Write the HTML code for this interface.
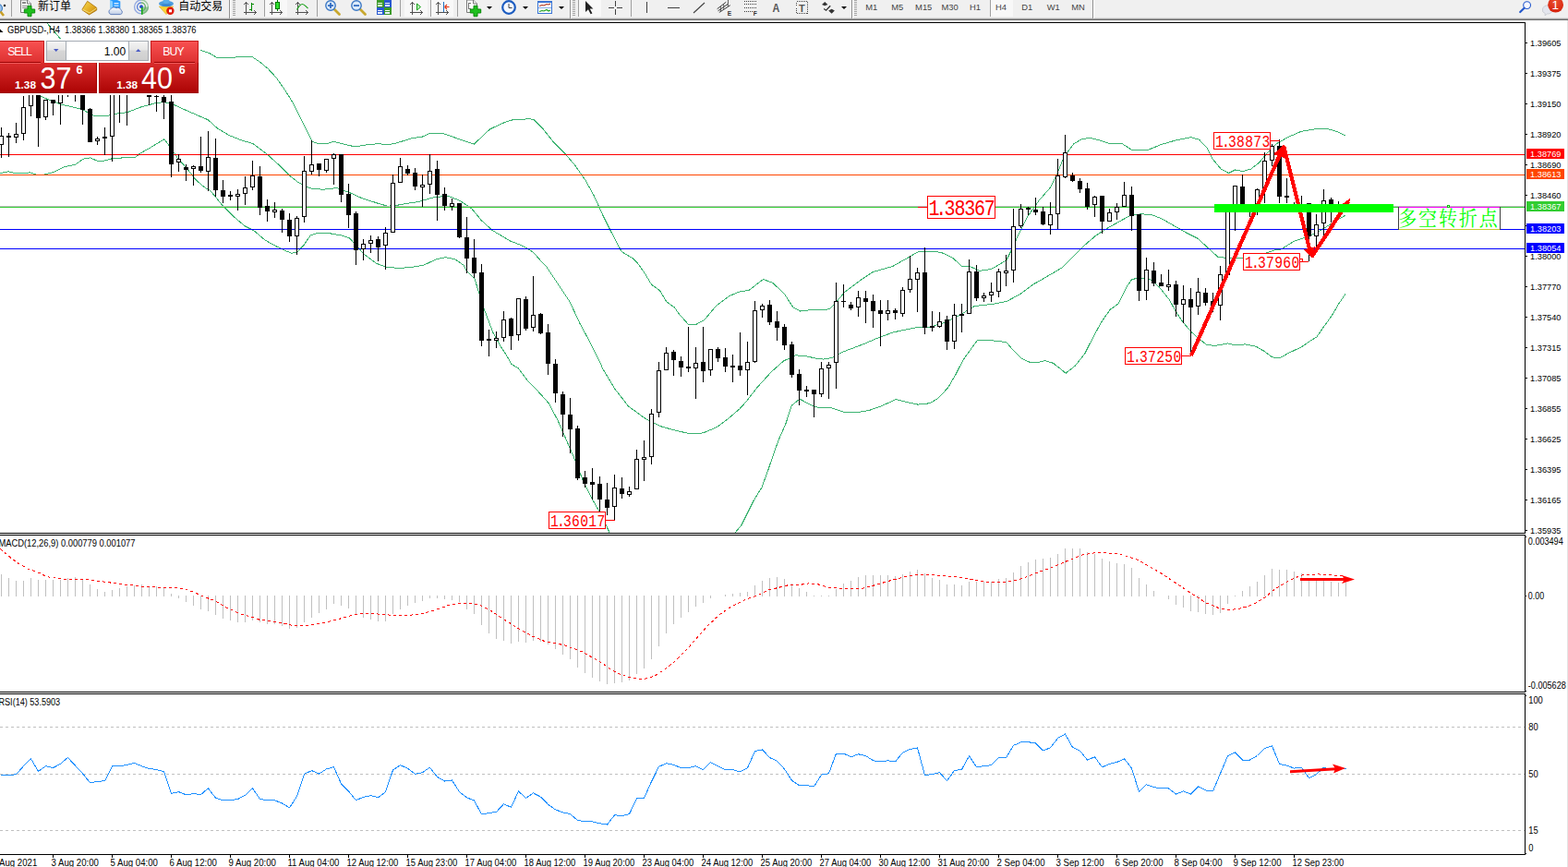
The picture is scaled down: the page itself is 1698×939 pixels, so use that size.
<!DOCTYPE html>
<html><head><meta charset="utf-8"><title>chart</title>
<style>
html,body{margin:0;padding:0;background:#fff;}
body{width:1698px;height:939px;position:relative;overflow:hidden;font-family:"Liberation Sans",sans-serif;}
.abs{position:absolute;}
</style></head><body>
<svg width="1698" height="939" viewBox="0 0 1698 939" style="position:absolute;left:0;top:0"><defs><clipPath id="cmain"><rect x="0" y="25" width="1651" height="552"/></clipPath></defs><g shape-rendering="crispEdges"><g clip-path="url(#cmain)"><polyline points="50.5,24.5 65.5,42.1 80.5,48.5 120.5,50.5 180.5,52.5 217.6,54.6 226.6,57.5 234.5,62.2 251.2,62.9 255.5,61.9 273.6,61.9 281.6,67.2 290.3,74.5 299.0,83.9 307.7,96.2 316.4,110.0 323.6,124.4 330.9,138.9 338.1,153.1 345.3,156.0 354.0,155.6 361.3,153.4 370.0,155.6 384.4,158.9 398.9,156.6 410.5,155.6 419.2,157.0 429.4,154.9 445.8,149.8 458.3,147.9 466.0,144.1 481.3,145.0 497.6,150.8 513.3,156.1 530.2,140.2 541.7,134.5 553.2,130.1 564.7,129.3 573.4,128.7 578.2,129.7 587.7,139.3 599.2,153.6 611.7,166.1 622.3,178.6 633.8,194.9 643.3,212.1 652.9,233.2 662.5,252.4 673.1,272.5 685.5,280.0 690.5,285.1 698.4,296.3 705.6,308.3 714.4,314.6 721.6,326.6 730.4,333.0 735.5,340.2 745.7,351.6 753.3,351.6 762.7,346.5 775.5,331.2 789.1,321.0 799.4,316.4 811.3,314.1 826.6,302.5 836.9,306.5 848.8,317.5 859.0,332.9 866.7,337.1 879.5,335.4 889.7,336.0 898.2,334.6 905.0,327.8 915.3,315.8 925.5,308.2 932.5,303.0 945.0,294.7 966.7,288.4 983.0,279.3 993.8,273.0 1008.3,272.1 1019.2,273.4 1031.9,279.3 1041.8,288.9 1050.0,288.4 1060.8,293.3 1073.5,291.5 1089.8,282.0 1097.0,267.6 1101.4,257.2 1112.2,235.5 1124.9,217.4 1137.6,202.9 1144.8,188.4 1152.0,170.3 1162.9,155.8 1171.9,150.4 1181.0,149.5 1191.9,152.2 1202.7,155.8 1215.4,155.8 1226.2,162.7 1242.5,162.7 1257.0,156.7 1273.3,151.9 1289.6,148.6 1298.6,151.3 1306.8,159.5 1313.1,172.1 1322.2,183.0 1330.4,187.5 1337.6,183.9 1345.8,185.7 1354.8,183.0 1363.9,175.8 1372.9,164.9 1382.0,155.9 1394.7,148.6 1409.2,142.3 1423.6,139.9 1436.3,139.2 1447.2,142.3 1457.5,147.2" fill="none" stroke="#3cb371" stroke-width="1"/><polyline points="0.5,80.5 20.5,90.5 44.7,104.5 55.9,109.3 66.5,113.1 80.4,116.3 88.9,118.4 96.3,122.7 102.7,125.9 114.5,125.9 125.1,123.2 137.9,121.6 152.5,116.0 169.1,111.5 178.0,110.6 188.2,113.4 202.3,119.8 225.3,129.8 235.5,139.0 248.3,146.6 261.1,151.7 273.9,155.6 289.2,167.1 302.0,178.6 313.5,190.1 322.4,197.1 336.2,203.9 349.8,205.3 365.1,203.6 378.8,208.7 390.7,214.1 407.8,219.8 419.7,223.2 431.6,222.0 440.5,220.3 452.9,218.6 470.7,213.4 485.7,212.4 497.6,217.1 511.0,226.1 521.4,238.8 533.3,249.6 552.7,261.1 564.6,265.6 577.3,273.0 588.5,285.7 591.4,288.3 604.2,307.5 616.9,326.6 628.1,350.6 639.3,371.4 648.9,390.5 652.9,399.7 665.7,421.0 680.6,440.1 699.8,454.0 716.8,462.2 733.9,466.8 748.8,470.0 761.5,468.9 776.5,462.5 789.2,452.9 800.5,443.3 807.9,435.2 819.8,419.8 835.2,402.8 848.8,390.8 861.6,384.9 870.9,385.4 884.6,388.3 891.4,389.1 901.6,387.4 911.9,381.5 925.5,376.3 935.5,372.5 948.6,366.9 966.7,360.0 992.0,354.8 1006.5,354.3 1021.0,350.1 1037.3,342.5 1055.4,331.5 1075.3,329.3 1089.8,326.5 1104.3,318.9 1118.7,308.1 1132.1,300.5 1150.2,289.8 1162.9,277.1 1173.8,266.2 1186.4,255.4 1199.1,247.2 1213.6,239.1 1224.4,233.3 1235.3,231.9 1246.2,232.2 1258.8,237.3 1271.5,244.5 1284.2,251.8 1296.8,258.1 1307.7,268.1 1318.6,278.1 1331.3,279.9 1346.7,279.9 1360.5,278.5 1371.4,274.0 1380.2,270.8 1387.4,269.9 1401.9,260.9 1416.4,256.4 1430.9,249.1 1443.6,241.0 1457.5,232.8" fill="none" stroke="#3cb371" stroke-width="1"/><polyline points="0.5,187.6 9.0,185.8 17.5,187.9 32.5,186.9 39.9,189.4 47.4,189.2 58.0,186.6 69.7,180.7 81.4,178.4 90.0,172.2 97.4,170.9 104.9,174.0 113.4,174.0 121.9,171.6 133.3,170.9 146.1,170.9 151.2,166.4 162.7,160.0 178.0,150.7 184.4,159.4 192.1,170.9 202.3,182.4 212.5,195.2 221.5,202.9 227.9,206.7 234.3,214.4 240.7,222.3 252.7,234.2 264.6,244.5 274.8,249.6 286.7,259.8 298.7,266.6 308.9,271.4 315.7,274.3 322.5,272.6 329.4,264.9 336.2,255.0 343.0,252.7 356.6,252.7 370.3,255.0 378.8,258.1 384.8,264.9 394.1,275.2 407.8,285.4 418.0,289.1 431.6,290.5 445.4,289.4 458.8,287.2 472.2,280.9 482.7,278.7 493.1,280.9 502.0,287.2 505.1,293.1 513.9,301.9 519.5,319.4 525.1,337.0 533.9,360.2 541.8,374.6 548.2,384.2 553.8,394.5 561.0,398.5 570.6,411.3 584.2,425.5 594.3,436.9 603.9,455.0 611.4,472.1 622.0,496.6 631.6,521.1 641.2,540.2 650.8,557.3 660.4,577.5 680.5,620.5 727.5,660.5 775.5,620.5 795.7,577.3 802.9,568.7 809.7,555.1 816.5,541.5 825.0,527.8 831.8,509.1 838.7,488.7 843.8,475.0 850.6,459.7 857.4,439.2 865.9,432.1 874.4,436.7 881.3,440.1 888.1,441.8 900.5,441.8 913.6,446.2 930.5,446.2 941.4,444.4 954.0,439.9 970.3,432.6 981.2,435.3 993.9,438.1 1006.5,436.8 1015.6,431.7 1026.5,420.0 1035.5,404.6 1042.8,390.1 1050.0,380.1 1058.1,368.9 1075.3,368.9 1089.8,370.5 1097.1,379.2 1106.1,388.3 1115.2,392.3 1122.4,392.8 1131.5,390.6 1140.5,393.3 1147.8,399.1 1154.1,404.2 1164.1,396.4 1174.9,382.8 1184.0,364.7 1193.0,348.4 1202.1,335.4 1211.1,328.9 1220.2,310.4 1226.0,302.1 1237.1,301.7 1246.1,303.0 1255.1,310.7 1266.2,324.5 1273.8,338.3 1281.4,349.4 1289.7,359.1 1298.0,366.7 1306.3,373.0 1314.7,374.6 1329.9,371.9 1337.6,373.9 1348.2,372.9 1359.9,375.1 1369.4,380.6 1377.6,386.8 1385.3,388.0 1396.5,381.8 1409.4,375.9 1417.7,370.0 1425.9,364.9 1434.2,352.9 1442.4,341.7 1449.5,329.4 1457.5,317.6" fill="none" stroke="#3cb371" stroke-width="1"/></g><rect x="0" y="167" width="1651" height="1" fill="#ff0000"/><rect x="0" y="189" width="1651" height="1" fill="#ff4500"/><rect x="0" y="223" width="1651" height="1" fill="#c0c0c0"/><rect x="0" y="224" width="1651" height="1" fill="#32cd32"/><rect x="0" y="248" width="1651" height="1" fill="#0000ff"/><rect x="0" y="269" width="1651" height="1" fill="#0000ff"/><g clip-path="url(#cmain)"><rect x="1" y="138" width="1" height="33" fill="#000"/><rect x="-1" y="147" width="5" height="10" fill="#000"/><rect x="0" y="148" width="3" height="8" fill="#fff"/><rect x="9" y="144" width="1" height="26" fill="#000"/><rect x="7" y="147" width="5" height="2" fill="#000"/><rect x="17" y="133" width="1" height="22" fill="#000"/><rect x="15" y="145" width="5" height="4" fill="#000"/><rect x="16" y="146" width="3" height="2" fill="#fff"/><rect x="25" y="104" width="1" height="48" fill="#000"/><rect x="23" y="116" width="5" height="29" fill="#000"/><rect x="24" y="117" width="3" height="27" fill="#fff"/><rect x="33" y="80" width="1" height="46" fill="#000"/><rect x="31" y="85" width="5" height="30" fill="#000"/><rect x="32" y="86" width="3" height="28" fill="#fff"/><rect x="41" y="80" width="1" height="79" fill="#000"/><rect x="39" y="85" width="5" height="43" fill="#000"/><rect x="49" y="108" width="1" height="22" fill="#000"/><rect x="47" y="108" width="5" height="19" fill="#000"/><rect x="48" y="109" width="3" height="17" fill="#fff"/><rect x="57" y="108" width="1" height="17" fill="#000"/><rect x="55" y="108" width="5" height="4" fill="#000"/><rect x="65" y="85" width="1" height="50" fill="#000"/><rect x="63" y="90" width="5" height="22" fill="#000"/><rect x="64" y="91" width="3" height="20" fill="#fff"/><rect x="73" y="75" width="1" height="30" fill="#000"/><rect x="71" y="80" width="5" height="18" fill="#000"/><rect x="81" y="80" width="1" height="30" fill="#000"/><rect x="79" y="85" width="5" height="14" fill="#000"/><rect x="80" y="86" width="3" height="12" fill="#fff"/><rect x="89" y="85" width="1" height="50" fill="#000"/><rect x="87" y="90" width="5" height="29" fill="#000"/><rect x="97" y="117" width="1" height="37" fill="#000"/><rect x="95" y="118" width="5" height="36" fill="#000"/><rect x="105" y="148" width="1" height="9" fill="#000"/><rect x="103" y="150" width="5" height="3" fill="#000"/><rect x="104" y="151" width="3" height="1" fill="#fff"/><rect x="113" y="138" width="1" height="30" fill="#000"/><rect x="111" y="148" width="5" height="2" fill="#000"/><rect x="121" y="80" width="1" height="95" fill="#000"/><rect x="119" y="85" width="5" height="63" fill="#000"/><rect x="120" y="86" width="3" height="61" fill="#fff"/><rect x="129" y="75" width="1" height="58" fill="#000"/><rect x="127" y="80" width="5" height="15" fill="#000"/><rect x="137" y="75" width="1" height="61" fill="#000"/><rect x="135" y="80" width="5" height="15" fill="#000"/><rect x="136" y="81" width="3" height="13" fill="#fff"/><rect x="145" y="75" width="1" height="24" fill="#000"/><rect x="143" y="80" width="5" height="15" fill="#000"/><rect x="153" y="75" width="1" height="24" fill="#000"/><rect x="151" y="80" width="5" height="15" fill="#000"/><rect x="152" y="81" width="3" height="13" fill="#fff"/><rect x="161" y="90" width="1" height="24" fill="#000"/><rect x="159" y="96" width="5" height="9" fill="#000"/><rect x="169" y="95" width="1" height="26" fill="#000"/><rect x="167" y="104" width="5" height="1" fill="#000"/><rect x="177" y="100" width="1" height="29" fill="#000"/><rect x="175" y="105" width="5" height="6" fill="#000"/><rect x="185" y="100" width="1" height="92" fill="#000"/><rect x="183" y="110" width="5" height="68" fill="#000"/><rect x="193" y="167" width="1" height="19" fill="#000"/><rect x="191" y="172" width="5" height="4" fill="#000"/><rect x="192" y="173" width="3" height="2" fill="#fff"/><rect x="201" y="178" width="1" height="18" fill="#000"/><rect x="199" y="181" width="5" height="3" fill="#000"/><rect x="209" y="179" width="1" height="22" fill="#000"/><rect x="207" y="180" width="5" height="3" fill="#000"/><rect x="208" y="181" width="3" height="1" fill="#fff"/><rect x="217" y="148" width="1" height="39" fill="#000"/><rect x="215" y="180" width="5" height="5" fill="#000"/><rect x="225" y="142" width="1" height="65" fill="#000"/><rect x="223" y="170" width="5" height="16" fill="#000"/><rect x="224" y="171" width="3" height="14" fill="#fff"/><rect x="233" y="150" width="1" height="63" fill="#000"/><rect x="231" y="171" width="5" height="35" fill="#000"/><rect x="241" y="195" width="1" height="25" fill="#000"/><rect x="239" y="206" width="5" height="7" fill="#000"/><rect x="249" y="207" width="1" height="10" fill="#000"/><rect x="247" y="211" width="5" height="2" fill="#000"/><rect x="257" y="205" width="1" height="23" fill="#000"/><rect x="255" y="210" width="5" height="3" fill="#000"/><rect x="256" y="211" width="3" height="1" fill="#fff"/><rect x="265" y="191" width="1" height="31" fill="#000"/><rect x="263" y="203" width="5" height="7" fill="#000"/><rect x="264" y="204" width="3" height="5" fill="#fff"/><rect x="273" y="174" width="1" height="32" fill="#000"/><rect x="271" y="190" width="5" height="13" fill="#000"/><rect x="272" y="191" width="3" height="11" fill="#fff"/><rect x="281" y="180" width="1" height="53" fill="#000"/><rect x="279" y="191" width="5" height="34" fill="#000"/><rect x="289" y="216" width="1" height="24" fill="#000"/><rect x="287" y="223" width="5" height="6" fill="#000"/><rect x="297" y="219" width="1" height="17" fill="#000"/><rect x="295" y="227" width="5" height="3" fill="#000"/><rect x="296" y="228" width="3" height="1" fill="#fff"/><rect x="305" y="226" width="1" height="26" fill="#000"/><rect x="303" y="228" width="5" height="10" fill="#000"/><rect x="313" y="231" width="1" height="31" fill="#000"/><rect x="311" y="238" width="5" height="18" fill="#000"/><rect x="321" y="234" width="1" height="42" fill="#000"/><rect x="319" y="236" width="5" height="20" fill="#000"/><rect x="320" y="237" width="3" height="18" fill="#fff"/><rect x="329" y="169" width="1" height="72" fill="#000"/><rect x="327" y="185" width="5" height="50" fill="#000"/><rect x="328" y="186" width="3" height="48" fill="#fff"/><rect x="337" y="152" width="1" height="37" fill="#000"/><rect x="335" y="178" width="5" height="8" fill="#000"/><rect x="336" y="179" width="3" height="6" fill="#fff"/><rect x="345" y="177" width="1" height="14" fill="#000"/><rect x="343" y="177" width="5" height="7" fill="#000"/><rect x="353" y="172" width="1" height="15" fill="#000"/><rect x="351" y="172" width="5" height="13" fill="#000"/><rect x="352" y="173" width="3" height="11" fill="#fff"/><rect x="361" y="166" width="1" height="34" fill="#000"/><rect x="359" y="167" width="5" height="5" fill="#000"/><rect x="360" y="168" width="3" height="3" fill="#fff"/><rect x="369" y="167" width="1" height="52" fill="#000"/><rect x="367" y="167" width="5" height="44" fill="#000"/><rect x="377" y="199" width="1" height="48" fill="#000"/><rect x="375" y="210" width="5" height="23" fill="#000"/><rect x="385" y="229" width="1" height="58" fill="#000"/><rect x="383" y="231" width="5" height="40" fill="#000"/><rect x="393" y="259" width="1" height="23" fill="#000"/><rect x="391" y="264" width="5" height="6" fill="#000"/><rect x="392" y="265" width="3" height="4" fill="#fff"/><rect x="401" y="255" width="1" height="19" fill="#000"/><rect x="399" y="260" width="5" height="4" fill="#000"/><rect x="400" y="261" width="3" height="2" fill="#fff"/><rect x="409" y="256" width="1" height="27" fill="#000"/><rect x="407" y="259" width="5" height="9" fill="#000"/><rect x="417" y="246" width="1" height="46" fill="#000"/><rect x="415" y="252" width="5" height="14" fill="#000"/><rect x="416" y="253" width="3" height="12" fill="#fff"/><rect x="425" y="189" width="1" height="63" fill="#000"/><rect x="423" y="198" width="5" height="54" fill="#000"/><rect x="424" y="199" width="3" height="52" fill="#fff"/><rect x="433" y="171" width="1" height="27" fill="#000"/><rect x="431" y="180" width="5" height="18" fill="#000"/><rect x="432" y="181" width="3" height="16" fill="#fff"/><rect x="441" y="179" width="1" height="11" fill="#000"/><rect x="439" y="183" width="5" height="5" fill="#000"/><rect x="449" y="182" width="1" height="24" fill="#000"/><rect x="447" y="187" width="5" height="15" fill="#000"/><rect x="457" y="189" width="1" height="35" fill="#000"/><rect x="455" y="200" width="5" height="3" fill="#000"/><rect x="456" y="201" width="3" height="1" fill="#fff"/><rect x="465" y="167" width="1" height="43" fill="#000"/><rect x="463" y="185" width="5" height="15" fill="#000"/><rect x="464" y="186" width="3" height="13" fill="#fff"/><rect x="473" y="174" width="1" height="65" fill="#000"/><rect x="471" y="183" width="5" height="28" fill="#000"/><rect x="481" y="203" width="1" height="25" fill="#000"/><rect x="479" y="210" width="5" height="13" fill="#000"/><rect x="489" y="215" width="1" height="13" fill="#000"/><rect x="487" y="220" width="5" height="4" fill="#000"/><rect x="488" y="221" width="3" height="2" fill="#fff"/><rect x="497" y="220" width="1" height="38" fill="#000"/><rect x="495" y="220" width="5" height="37" fill="#000"/><rect x="505" y="235" width="1" height="61" fill="#000"/><rect x="503" y="257" width="5" height="23" fill="#000"/><rect x="513" y="259" width="1" height="42" fill="#000"/><rect x="511" y="279" width="5" height="17" fill="#000"/><rect x="521" y="286" width="1" height="89" fill="#000"/><rect x="519" y="295" width="5" height="74" fill="#000"/><rect x="529" y="357" width="1" height="29" fill="#000"/><rect x="527" y="367" width="5" height="2" fill="#000"/><rect x="537" y="359" width="1" height="18" fill="#000"/><rect x="535" y="366" width="5" height="3" fill="#000"/><rect x="536" y="367" width="3" height="1" fill="#fff"/><rect x="545" y="337" width="1" height="33" fill="#000"/><rect x="543" y="346" width="5" height="20" fill="#000"/><rect x="544" y="347" width="3" height="18" fill="#fff"/><rect x="553" y="344" width="1" height="35" fill="#000"/><rect x="551" y="345" width="5" height="19" fill="#000"/><rect x="561" y="323" width="1" height="46" fill="#000"/><rect x="559" y="323" width="5" height="40" fill="#000"/><rect x="560" y="324" width="3" height="38" fill="#fff"/><rect x="569" y="321" width="1" height="37" fill="#000"/><rect x="567" y="324" width="5" height="32" fill="#000"/><rect x="577" y="299" width="1" height="60" fill="#000"/><rect x="575" y="341" width="5" height="14" fill="#000"/><rect x="576" y="342" width="3" height="12" fill="#fff"/><rect x="585" y="339" width="1" height="23" fill="#000"/><rect x="583" y="340" width="5" height="21" fill="#000"/><rect x="593" y="351" width="1" height="55" fill="#000"/><rect x="591" y="360" width="5" height="34" fill="#000"/><rect x="601" y="389" width="1" height="47" fill="#000"/><rect x="599" y="394" width="5" height="32" fill="#000"/><rect x="609" y="424" width="1" height="49" fill="#000"/><rect x="607" y="427" width="5" height="22" fill="#000"/><rect x="617" y="431" width="1" height="60" fill="#000"/><rect x="615" y="449" width="5" height="16" fill="#000"/><rect x="625" y="461" width="1" height="59" fill="#000"/><rect x="623" y="464" width="5" height="54" fill="#000"/><rect x="633" y="510" width="1" height="18" fill="#000"/><rect x="631" y="517" width="5" height="7" fill="#000"/><rect x="641" y="507" width="1" height="34" fill="#000"/><rect x="639" y="522" width="5" height="3" fill="#000"/><rect x="649" y="516" width="1" height="39" fill="#000"/><rect x="647" y="524" width="5" height="17" fill="#000"/><rect x="657" y="523" width="1" height="35" fill="#000"/><rect x="655" y="541" width="5" height="9" fill="#000"/><rect x="665" y="514" width="1" height="49" fill="#000"/><rect x="663" y="528" width="5" height="21" fill="#000"/><rect x="664" y="529" width="3" height="19" fill="#fff"/><rect x="673" y="517" width="1" height="23" fill="#000"/><rect x="671" y="529" width="5" height="6" fill="#000"/><rect x="681" y="527" width="1" height="11" fill="#000"/><rect x="679" y="532" width="5" height="4" fill="#000"/><rect x="680" y="533" width="3" height="2" fill="#fff"/><rect x="689" y="487" width="1" height="43" fill="#000"/><rect x="687" y="497" width="5" height="33" fill="#000"/><rect x="688" y="498" width="3" height="31" fill="#fff"/><rect x="697" y="477" width="1" height="44" fill="#000"/><rect x="695" y="495" width="5" height="3" fill="#000"/><rect x="696" y="496" width="3" height="1" fill="#fff"/><rect x="705" y="443" width="1" height="60" fill="#000"/><rect x="703" y="448" width="5" height="47" fill="#000"/><rect x="704" y="449" width="3" height="45" fill="#fff"/><rect x="713" y="392" width="1" height="60" fill="#000"/><rect x="711" y="401" width="5" height="46" fill="#000"/><rect x="712" y="402" width="3" height="44" fill="#fff"/><rect x="721" y="376" width="1" height="25" fill="#000"/><rect x="719" y="382" width="5" height="19" fill="#000"/><rect x="720" y="383" width="3" height="17" fill="#fff"/><rect x="729" y="379" width="1" height="28" fill="#000"/><rect x="727" y="381" width="5" height="9" fill="#000"/><rect x="737" y="386" width="1" height="22" fill="#000"/><rect x="735" y="391" width="5" height="7" fill="#000"/><rect x="745" y="354" width="1" height="49" fill="#000"/><rect x="743" y="397" width="5" height="2" fill="#000"/><rect x="753" y="376" width="1" height="56" fill="#000"/><rect x="751" y="393" width="5" height="6" fill="#000"/><rect x="752" y="394" width="3" height="4" fill="#fff"/><rect x="761" y="354" width="1" height="60" fill="#000"/><rect x="759" y="392" width="5" height="10" fill="#000"/><rect x="769" y="378" width="1" height="29" fill="#000"/><rect x="767" y="378" width="5" height="23" fill="#000"/><rect x="768" y="379" width="3" height="21" fill="#fff"/><rect x="777" y="376" width="1" height="16" fill="#000"/><rect x="775" y="378" width="5" height="10" fill="#000"/><rect x="785" y="377" width="1" height="26" fill="#000"/><rect x="783" y="387" width="5" height="10" fill="#000"/><rect x="793" y="384" width="1" height="30" fill="#000"/><rect x="791" y="396" width="5" height="2" fill="#000"/><rect x="801" y="360" width="1" height="47" fill="#000"/><rect x="799" y="396" width="5" height="5" fill="#000"/><rect x="809" y="370" width="1" height="58" fill="#000"/><rect x="807" y="392" width="5" height="9" fill="#000"/><rect x="808" y="393" width="3" height="7" fill="#fff"/><rect x="817" y="326" width="1" height="67" fill="#000"/><rect x="815" y="336" width="5" height="56" fill="#000"/><rect x="816" y="337" width="3" height="54" fill="#fff"/><rect x="825" y="329" width="1" height="15" fill="#000"/><rect x="823" y="331" width="5" height="5" fill="#000"/><rect x="824" y="332" width="3" height="3" fill="#fff"/><rect x="833" y="325" width="1" height="27" fill="#000"/><rect x="831" y="330" width="5" height="19" fill="#000"/><rect x="841" y="337" width="1" height="32" fill="#000"/><rect x="839" y="348" width="5" height="7" fill="#000"/><rect x="849" y="351" width="1" height="28" fill="#000"/><rect x="847" y="354" width="5" height="20" fill="#000"/><rect x="857" y="370" width="1" height="39" fill="#000"/><rect x="855" y="373" width="5" height="33" fill="#000"/><rect x="865" y="400" width="1" height="39" fill="#000"/><rect x="863" y="405" width="5" height="18" fill="#000"/><rect x="873" y="418" width="1" height="12" fill="#000"/><rect x="871" y="422" width="5" height="2" fill="#000"/><rect x="881" y="422" width="1" height="30" fill="#000"/><rect x="879" y="422" width="5" height="5" fill="#000"/><rect x="889" y="392" width="1" height="38" fill="#000"/><rect x="887" y="399" width="5" height="28" fill="#000"/><rect x="888" y="400" width="3" height="26" fill="#fff"/><rect x="897" y="392" width="1" height="40" fill="#000"/><rect x="895" y="395" width="5" height="4" fill="#000"/><rect x="896" y="396" width="3" height="2" fill="#fff"/><rect x="905" y="306" width="1" height="115" fill="#000"/><rect x="903" y="326" width="5" height="67" fill="#000"/><rect x="904" y="327" width="3" height="65" fill="#fff"/><rect x="913" y="308" width="1" height="25" fill="#000"/><rect x="911" y="326" width="5" height="1" fill="#000"/><rect x="921" y="327" width="1" height="9" fill="#000"/><rect x="919" y="330" width="5" height="4" fill="#000"/><rect x="929" y="315" width="1" height="28" fill="#000"/><rect x="927" y="322" width="5" height="11" fill="#000"/><rect x="928" y="323" width="3" height="9" fill="#fff"/><rect x="937" y="315" width="1" height="35" fill="#000"/><rect x="935" y="323" width="5" height="4" fill="#000"/><rect x="945" y="319" width="1" height="36" fill="#000"/><rect x="943" y="326" width="5" height="11" fill="#000"/><rect x="953" y="325" width="1" height="50" fill="#000"/><rect x="951" y="336" width="5" height="4" fill="#000"/><rect x="961" y="325" width="1" height="22" fill="#000"/><rect x="959" y="336" width="5" height="4" fill="#000"/><rect x="960" y="337" width="3" height="2" fill="#fff"/><rect x="969" y="334" width="1" height="12" fill="#000"/><rect x="967" y="336" width="5" height="3" fill="#000"/><rect x="977" y="311" width="1" height="32" fill="#000"/><rect x="975" y="314" width="5" height="26" fill="#000"/><rect x="976" y="315" width="3" height="24" fill="#fff"/><rect x="985" y="277" width="1" height="40" fill="#000"/><rect x="983" y="302" width="5" height="12" fill="#000"/><rect x="984" y="303" width="3" height="10" fill="#fff"/><rect x="993" y="290" width="1" height="48" fill="#000"/><rect x="991" y="295" width="5" height="8" fill="#000"/><rect x="992" y="296" width="3" height="6" fill="#fff"/><rect x="1001" y="268" width="1" height="94" fill="#000"/><rect x="999" y="295" width="5" height="60" fill="#000"/><rect x="1009" y="337" width="1" height="22" fill="#000"/><rect x="1007" y="353" width="5" height="2" fill="#000"/><rect x="1017" y="338" width="1" height="17" fill="#000"/><rect x="1015" y="348" width="5" height="6" fill="#000"/><rect x="1016" y="349" width="3" height="4" fill="#fff"/><rect x="1025" y="342" width="1" height="37" fill="#000"/><rect x="1023" y="346" width="5" height="24" fill="#000"/><rect x="1033" y="329" width="1" height="49" fill="#000"/><rect x="1031" y="341" width="5" height="29" fill="#000"/><rect x="1032" y="342" width="3" height="27" fill="#fff"/><rect x="1041" y="329" width="1" height="31" fill="#000"/><rect x="1039" y="340" width="5" height="2" fill="#000"/><rect x="1049" y="281" width="1" height="59" fill="#000"/><rect x="1047" y="294" width="5" height="46" fill="#000"/><rect x="1048" y="295" width="3" height="44" fill="#fff"/><rect x="1057" y="287" width="1" height="39" fill="#000"/><rect x="1055" y="294" width="5" height="29" fill="#000"/><rect x="1065" y="317" width="1" height="10" fill="#000"/><rect x="1063" y="320" width="5" height="3" fill="#000"/><rect x="1064" y="321" width="3" height="1" fill="#fff"/><rect x="1073" y="306" width="1" height="21" fill="#000"/><rect x="1071" y="316" width="5" height="4" fill="#000"/><rect x="1072" y="317" width="3" height="2" fill="#fff"/><rect x="1081" y="291" width="1" height="31" fill="#000"/><rect x="1079" y="294" width="5" height="22" fill="#000"/><rect x="1080" y="295" width="3" height="20" fill="#fff"/><rect x="1089" y="276" width="1" height="34" fill="#000"/><rect x="1087" y="293" width="5" height="3" fill="#000"/><rect x="1088" y="294" width="3" height="1" fill="#fff"/><rect x="1097" y="226" width="1" height="80" fill="#000"/><rect x="1095" y="245" width="5" height="48" fill="#000"/><rect x="1096" y="246" width="3" height="46" fill="#fff"/><rect x="1105" y="221" width="1" height="26" fill="#000"/><rect x="1103" y="226" width="5" height="19" fill="#000"/><rect x="1104" y="227" width="3" height="17" fill="#fff"/><rect x="1113" y="224" width="1" height="9" fill="#000"/><rect x="1111" y="225" width="5" height="2" fill="#000"/><rect x="1121" y="214" width="1" height="19" fill="#000"/><rect x="1119" y="227" width="5" height="3" fill="#000"/><rect x="1129" y="224" width="1" height="20" fill="#000"/><rect x="1127" y="229" width="5" height="14" fill="#000"/><rect x="1137" y="219" width="1" height="35" fill="#000"/><rect x="1135" y="232" width="5" height="12" fill="#000"/><rect x="1136" y="233" width="3" height="10" fill="#fff"/><rect x="1145" y="172" width="1" height="76" fill="#000"/><rect x="1143" y="190" width="5" height="42" fill="#000"/><rect x="1144" y="191" width="3" height="40" fill="#fff"/><rect x="1153" y="146" width="1" height="47" fill="#000"/><rect x="1151" y="165" width="5" height="27" fill="#000"/><rect x="1152" y="166" width="3" height="25" fill="#fff"/><rect x="1161" y="187" width="1" height="10" fill="#000"/><rect x="1159" y="190" width="5" height="6" fill="#000"/><rect x="1169" y="193" width="1" height="16" fill="#000"/><rect x="1167" y="196" width="5" height="9" fill="#000"/><rect x="1177" y="198" width="1" height="29" fill="#000"/><rect x="1175" y="204" width="5" height="20" fill="#000"/><rect x="1185" y="212" width="1" height="23" fill="#000"/><rect x="1183" y="213" width="5" height="9" fill="#000"/><rect x="1184" y="214" width="3" height="7" fill="#fff"/><rect x="1193" y="212" width="1" height="41" fill="#000"/><rect x="1191" y="212" width="5" height="28" fill="#000"/><rect x="1201" y="226" width="1" height="14" fill="#000"/><rect x="1199" y="230" width="5" height="10" fill="#000"/><rect x="1200" y="231" width="3" height="8" fill="#fff"/><rect x="1209" y="220" width="1" height="18" fill="#000"/><rect x="1207" y="224" width="5" height="6" fill="#000"/><rect x="1208" y="225" width="3" height="4" fill="#fff"/><rect x="1217" y="197" width="1" height="27" fill="#000"/><rect x="1215" y="211" width="5" height="13" fill="#000"/><rect x="1216" y="212" width="3" height="11" fill="#fff"/><rect x="1225" y="202" width="1" height="48" fill="#000"/><rect x="1223" y="211" width="5" height="23" fill="#000"/><rect x="1233" y="232" width="1" height="94" fill="#000"/><rect x="1231" y="232" width="5" height="83" fill="#000"/><rect x="1241" y="279" width="1" height="46" fill="#000"/><rect x="1239" y="292" width="5" height="23" fill="#000"/><rect x="1240" y="293" width="3" height="21" fill="#fff"/><rect x="1249" y="284" width="1" height="26" fill="#000"/><rect x="1247" y="293" width="5" height="14" fill="#000"/><rect x="1257" y="297" width="1" height="13" fill="#000"/><rect x="1255" y="306" width="5" height="4" fill="#000"/><rect x="1265" y="292" width="1" height="23" fill="#000"/><rect x="1263" y="308" width="5" height="3" fill="#000"/><rect x="1264" y="309" width="3" height="1" fill="#fff"/><rect x="1273" y="304" width="1" height="39" fill="#000"/><rect x="1271" y="308" width="5" height="22" fill="#000"/><rect x="1281" y="309" width="1" height="41" fill="#000"/><rect x="1279" y="324" width="5" height="6" fill="#000"/><rect x="1280" y="325" width="3" height="4" fill="#fff"/><rect x="1289" y="312" width="1" height="73" fill="#000"/><rect x="1287" y="324" width="5" height="9" fill="#000"/><rect x="1297" y="301" width="1" height="40" fill="#000"/><rect x="1295" y="316" width="5" height="16" fill="#000"/><rect x="1296" y="317" width="3" height="14" fill="#fff"/><rect x="1305" y="312" width="1" height="19" fill="#000"/><rect x="1303" y="317" width="5" height="11" fill="#000"/><rect x="1313" y="317" width="1" height="21" fill="#000"/><rect x="1311" y="326" width="5" height="6" fill="#000"/><rect x="1321" y="288" width="1" height="59" fill="#000"/><rect x="1319" y="297" width="5" height="34" fill="#000"/><rect x="1320" y="298" width="3" height="32" fill="#fff"/><rect x="1329" y="229" width="1" height="69" fill="#000"/><rect x="1327" y="229" width="5" height="69" fill="#000"/><rect x="1328" y="230" width="3" height="67" fill="#fff"/><rect x="1337" y="201" width="1" height="49" fill="#000"/><rect x="1335" y="201" width="5" height="22" fill="#000"/><rect x="1336" y="202" width="3" height="20" fill="#fff"/><rect x="1345" y="189" width="1" height="35" fill="#000"/><rect x="1343" y="202" width="5" height="22" fill="#000"/><rect x="1353" y="221" width="1" height="14" fill="#000"/><rect x="1351" y="225" width="5" height="2" fill="#000"/><rect x="1361" y="204" width="1" height="29" fill="#000"/><rect x="1359" y="205" width="5" height="21" fill="#000"/><rect x="1360" y="206" width="3" height="19" fill="#fff"/><rect x="1369" y="165" width="1" height="55" fill="#000"/><rect x="1367" y="174" width="5" height="31" fill="#000"/><rect x="1368" y="175" width="3" height="29" fill="#fff"/><rect x="1377" y="156" width="1" height="24" fill="#000"/><rect x="1375" y="158" width="5" height="16" fill="#000"/><rect x="1376" y="159" width="3" height="14" fill="#fff"/><rect x="1385" y="151" width="1" height="69" fill="#000"/><rect x="1383" y="158" width="5" height="55" fill="#000"/><rect x="1393" y="193" width="1" height="27" fill="#000"/><rect x="1391" y="212" width="5" height="2" fill="#000"/><rect x="1401" y="219" width="1" height="9" fill="#000"/><rect x="1399" y="223" width="5" height="2" fill="#000"/><rect x="1409" y="212" width="1" height="30" fill="#000"/><rect x="1407" y="223" width="5" height="5" fill="#000"/><rect x="1408" y="224" width="3" height="3" fill="#fff"/><rect x="1417" y="220" width="1" height="63" fill="#000"/><rect x="1415" y="220" width="5" height="36" fill="#000"/><rect x="1425" y="232" width="1" height="37" fill="#000"/><rect x="1423" y="243" width="5" height="13" fill="#000"/><rect x="1424" y="244" width="3" height="11" fill="#fff"/><rect x="1433" y="205" width="1" height="52" fill="#000"/><rect x="1431" y="217" width="5" height="25" fill="#000"/><rect x="1432" y="218" width="3" height="23" fill="#fff"/><rect x="1441" y="214" width="1" height="27" fill="#000"/><rect x="1439" y="216" width="5" height="8" fill="#000"/><rect x="1449" y="218" width="1" height="12" fill="#000"/><rect x="1447" y="223" width="5" height="2" fill="#000"/><rect x="1457" y="224" width="1" height="1" fill="#000"/><rect x="1455" y="223" width="5" height="2" fill="#000"/></g></g><g shape-rendering="crispEdges"><rect x="1514" y="224" width="111" height="25" fill="#fff"/><rect x="1514" y="224" width="111" height="1" fill="#ff00ff"/><rect x="1514" y="248" width="111" height="1" fill="#c8c832"/><rect x="1514" y="224" width="1" height="25" fill="#404040"/><rect x="1624" y="224" width="1" height="25" fill="#404040"/></g><rect x="1567" y="222" width="3" height="3" fill="#00c800" shape-rendering="crispEdges"/><rect x="1568" y="223" width="1" height="1" fill="#fff" shape-rendering="crispEdges"/><text transform="translate(1513.8,244.3) scale(1,1.09)" x="0.4" y="0" font-family="'Liberation Serif','Noto Serif CJK SC',serif" font-size="20" letter-spacing="1.9" fill="#00ff00">多空转折点</text><line x1="656" y1="563.5" x2="665.5" y2="563.5" stroke="#ff0000" stroke-width="1" shape-rendering="crispEdges"/><line x1="994" y1="224.5" x2="1004" y2="224.5" stroke="#ff0000" stroke-width="1" shape-rendering="crispEdges"/><line x1="1280" y1="385.5" x2="1290" y2="385.5" stroke="#ff0000" stroke-width="1" shape-rendering="crispEdges"/><line x1="1376" y1="152.5" x2="1386" y2="152.5" stroke="#ff0000" stroke-width="1" shape-rendering="crispEdges"/><line x1="1410" y1="283.5" x2="1417" y2="283.5" stroke="#ff0000" stroke-width="1" shape-rendering="crispEdges"/><rect x="594.5" y="554.5" width="61" height="18" fill="#fff" stroke="#ff0000" stroke-width="1" shape-rendering="crispEdges"/><text transform="translate(600.5,570.0) scale(1,1.24)" font-family="Liberation Mono" font-size="14.7" fill="#ff0000" text-anchor="middle">1</text><text transform="translate(607.3,570.0) scale(1,1.24)" font-family="Liberation Mono" font-size="14.7" fill="#ff0000" text-anchor="middle">.</text><text transform="translate(614.4,570.0) scale(1,1.24)" font-family="Liberation Mono" font-size="14.7" fill="#ff0000" text-anchor="middle">3</text><text transform="translate(623.5,570.0) scale(1,1.24)" font-family="Liberation Mono" font-size="14.7" fill="#ff0000" text-anchor="middle">6</text><text transform="translate(632.6,570.0) scale(1,1.24)" font-family="Liberation Mono" font-size="14.7" fill="#ff0000" text-anchor="middle">0</text><text transform="translate(641.7,570.0) scale(1,1.24)" font-family="Liberation Mono" font-size="14.7" fill="#ff0000" text-anchor="middle">1</text><text transform="translate(650.8,570.0) scale(1,1.24)" font-family="Liberation Mono" font-size="14.7" fill="#ff0000" text-anchor="middle">7</text><rect x="1004.5" y="212.5" width="73" height="24" fill="#fff" stroke="#ff0000" stroke-width="1" shape-rendering="crispEdges"/><text transform="translate(1011.4,233.1) scale(1.15,1.375)" font-family="Liberation Mono" font-size="17.4" fill="#ff0000" text-anchor="middle">1</text><text transform="translate(1019.2,233.1) scale(1.15,1.375)" font-family="Liberation Mono" font-size="17.4" fill="#ff0000" text-anchor="middle">.</text><text transform="translate(1028.6,233.1) scale(1.15,1.375)" font-family="Liberation Mono" font-size="17.4" fill="#ff0000" text-anchor="middle">3</text><text transform="translate(1039.4,233.1) scale(1.15,1.375)" font-family="Liberation Mono" font-size="17.4" fill="#ff0000" text-anchor="middle">8</text><text transform="translate(1050.2,233.1) scale(1.15,1.375)" font-family="Liberation Mono" font-size="17.4" fill="#ff0000" text-anchor="middle">3</text><text transform="translate(1061.0,233.1) scale(1.15,1.375)" font-family="Liberation Mono" font-size="17.4" fill="#ff0000" text-anchor="middle">6</text><text transform="translate(1071.8,233.1) scale(1.15,1.375)" font-family="Liberation Mono" font-size="17.4" fill="#ff0000" text-anchor="middle">7</text><rect x="1218.5" y="376.5" width="61" height="18" fill="#fff" stroke="#ff0000" stroke-width="1" shape-rendering="crispEdges"/><text transform="translate(1224.5,392.0) scale(1,1.24)" font-family="Liberation Mono" font-size="14.7" fill="#ff0000" text-anchor="middle">1</text><text transform="translate(1231.3,392.0) scale(1,1.24)" font-family="Liberation Mono" font-size="14.7" fill="#ff0000" text-anchor="middle">.</text><text transform="translate(1238.4,392.0) scale(1,1.24)" font-family="Liberation Mono" font-size="14.7" fill="#ff0000" text-anchor="middle">3</text><text transform="translate(1247.5,392.0) scale(1,1.24)" font-family="Liberation Mono" font-size="14.7" fill="#ff0000" text-anchor="middle">7</text><text transform="translate(1256.6,392.0) scale(1,1.24)" font-family="Liberation Mono" font-size="14.7" fill="#ff0000" text-anchor="middle">2</text><text transform="translate(1265.7,392.0) scale(1,1.24)" font-family="Liberation Mono" font-size="14.7" fill="#ff0000" text-anchor="middle">5</text><text transform="translate(1274.8,392.0) scale(1,1.24)" font-family="Liberation Mono" font-size="14.7" fill="#ff0000" text-anchor="middle">0</text><rect x="1314.5" y="143.5" width="61" height="18" fill="#fff" stroke="#ff0000" stroke-width="1" shape-rendering="crispEdges"/><text transform="translate(1320.5,159.0) scale(1,1.24)" font-family="Liberation Mono" font-size="14.7" fill="#ff0000" text-anchor="middle">1</text><text transform="translate(1327.3,159.0) scale(1,1.24)" font-family="Liberation Mono" font-size="14.7" fill="#ff0000" text-anchor="middle">.</text><text transform="translate(1334.4,159.0) scale(1,1.24)" font-family="Liberation Mono" font-size="14.7" fill="#ff0000" text-anchor="middle">3</text><text transform="translate(1343.5,159.0) scale(1,1.24)" font-family="Liberation Mono" font-size="14.7" fill="#ff0000" text-anchor="middle">8</text><text transform="translate(1352.6,159.0) scale(1,1.24)" font-family="Liberation Mono" font-size="14.7" fill="#ff0000" text-anchor="middle">8</text><text transform="translate(1361.7,159.0) scale(1,1.24)" font-family="Liberation Mono" font-size="14.7" fill="#ff0000" text-anchor="middle">7</text><text transform="translate(1370.8,159.0) scale(1,1.24)" font-family="Liberation Mono" font-size="14.7" fill="#ff0000" text-anchor="middle">3</text><rect x="1346.5" y="274.5" width="61" height="18" fill="#fff" stroke="#ff0000" stroke-width="1" shape-rendering="crispEdges"/><text transform="translate(1352.5,290.0) scale(1,1.24)" font-family="Liberation Mono" font-size="14.7" fill="#ff0000" text-anchor="middle">1</text><text transform="translate(1359.3,290.0) scale(1,1.24)" font-family="Liberation Mono" font-size="14.7" fill="#ff0000" text-anchor="middle">.</text><text transform="translate(1366.4,290.0) scale(1,1.24)" font-family="Liberation Mono" font-size="14.7" fill="#ff0000" text-anchor="middle">3</text><text transform="translate(1375.5,290.0) scale(1,1.24)" font-family="Liberation Mono" font-size="14.7" fill="#ff0000" text-anchor="middle">7</text><text transform="translate(1384.6,290.0) scale(1,1.24)" font-family="Liberation Mono" font-size="14.7" fill="#ff0000" text-anchor="middle">9</text><text transform="translate(1393.7,290.0) scale(1,1.24)" font-family="Liberation Mono" font-size="14.7" fill="#ff0000" text-anchor="middle">6</text><text transform="translate(1402.8,290.0) scale(1,1.24)" font-family="Liberation Mono" font-size="14.7" fill="#ff0000" text-anchor="middle">0</text><rect x="1407.5" y="280.5" width="3" height="3" fill="#fff" stroke="#ff0000" stroke-width="1" shape-rendering="crispEdges"/><g stroke="#ff0000" stroke-width="4.2" fill="none" shape-rendering="crispEdges"><line x1="1290.0" y1="385.0" x2="1388.3" y2="162.3"/><line x1="1390.3" y1="158.8" x2="1419.4" y2="275.3"/><line x1="1420.4" y1="278.3" x2="1459.9" y2="218.3"/></g><polygon points="1390.8,156.3 1391.0,171.2 1379.7,166.2" fill="#ff0000" shape-rendering="crispEdges"/><polygon points="1420.4,279.3 1411.6,270.4 1424.0,267.3" fill="#ff0000" shape-rendering="crispEdges"/><polygon points="1462.2,214.8 1460.3,224.3 1454.3,220.4" fill="#ff0000" shape-rendering="crispEdges"/><rect x="1315" y="221" width="194" height="9" fill="#00ff00" shape-rendering="crispEdges"/><g shape-rendering="crispEdges"><rect x="1" y="622" width="1" height="24" fill="#c0c0c0"/><rect x="9" y="626" width="1" height="20" fill="#c0c0c0"/><rect x="17" y="629" width="1" height="17" fill="#c0c0c0"/><rect x="25" y="629" width="1" height="17" fill="#c0c0c0"/><rect x="33" y="626" width="1" height="20" fill="#c0c0c0"/><rect x="41" y="628" width="1" height="18" fill="#c0c0c0"/><rect x="49" y="628" width="1" height="18" fill="#c0c0c0"/><rect x="57" y="628" width="1" height="18" fill="#c0c0c0"/><rect x="65" y="628" width="1" height="18" fill="#c0c0c0"/><rect x="73" y="626" width="1" height="20" fill="#c0c0c0"/><rect x="81" y="625" width="1" height="21" fill="#c0c0c0"/><rect x="89" y="627" width="1" height="19" fill="#c0c0c0"/><rect x="97" y="633" width="1" height="13" fill="#c0c0c0"/><rect x="105" y="638" width="1" height="8" fill="#c0c0c0"/><rect x="113" y="641" width="1" height="5" fill="#c0c0c0"/><rect x="121" y="639" width="1" height="7" fill="#c0c0c0"/><rect x="129" y="637" width="1" height="9" fill="#c0c0c0"/><rect x="137" y="635" width="1" height="11" fill="#c0c0c0"/><rect x="145" y="634" width="1" height="12" fill="#c0c0c0"/><rect x="153" y="633" width="1" height="13" fill="#c0c0c0"/><rect x="161" y="635" width="1" height="11" fill="#c0c0c0"/><rect x="169" y="635" width="1" height="11" fill="#c0c0c0"/><rect x="177" y="636" width="1" height="10" fill="#c0c0c0"/><rect x="185" y="643" width="1" height="3" fill="#c0c0c0"/><rect x="193" y="645" width="1" height="3" fill="#c0c0c0"/><rect x="201" y="645" width="1" height="7" fill="#c0c0c0"/><rect x="209" y="645" width="1" height="11" fill="#c0c0c0"/><rect x="217" y="645" width="1" height="15" fill="#c0c0c0"/><rect x="225" y="645" width="1" height="17" fill="#c0c0c0"/><rect x="233" y="645" width="1" height="21" fill="#c0c0c0"/><rect x="241" y="645" width="1" height="25" fill="#c0c0c0"/><rect x="249" y="645" width="1" height="27" fill="#c0c0c0"/><rect x="257" y="645" width="1" height="29" fill="#c0c0c0"/><rect x="265" y="645" width="1" height="29" fill="#c0c0c0"/><rect x="273" y="645" width="1" height="27" fill="#c0c0c0"/><rect x="281" y="645" width="1" height="29" fill="#c0c0c0"/><rect x="289" y="645" width="1" height="31" fill="#c0c0c0"/><rect x="297" y="645" width="1" height="31" fill="#c0c0c0"/><rect x="305" y="645" width="1" height="33" fill="#c0c0c0"/><rect x="313" y="645" width="1" height="36" fill="#c0c0c0"/><rect x="321" y="645" width="1" height="35" fill="#c0c0c0"/><rect x="329" y="645" width="1" height="29" fill="#c0c0c0"/><rect x="337" y="645" width="1" height="24" fill="#c0c0c0"/><rect x="345" y="645" width="1" height="19" fill="#c0c0c0"/><rect x="353" y="645" width="1" height="15" fill="#c0c0c0"/><rect x="361" y="645" width="1" height="9" fill="#c0c0c0"/><rect x="369" y="645" width="1" height="11" fill="#c0c0c0"/><rect x="377" y="645" width="1" height="14" fill="#c0c0c0"/><rect x="385" y="645" width="1" height="20" fill="#c0c0c0"/><rect x="393" y="645" width="1" height="24" fill="#c0c0c0"/><rect x="401" y="645" width="1" height="26" fill="#c0c0c0"/><rect x="409" y="645" width="1" height="28" fill="#c0c0c0"/><rect x="417" y="645" width="1" height="28" fill="#c0c0c0"/><rect x="425" y="645" width="1" height="20" fill="#c0c0c0"/><rect x="433" y="645" width="1" height="15" fill="#c0c0c0"/><rect x="441" y="645" width="1" height="11" fill="#c0c0c0"/><rect x="449" y="645" width="1" height="8" fill="#c0c0c0"/><rect x="457" y="645" width="1" height="6" fill="#c0c0c0"/><rect x="465" y="645" width="1" height="3" fill="#c0c0c0"/><rect x="473" y="645" width="1" height="3" fill="#c0c0c0"/><rect x="481" y="645" width="1" height="4" fill="#c0c0c0"/><rect x="489" y="645" width="1" height="5" fill="#c0c0c0"/><rect x="497" y="645" width="1" height="7" fill="#c0c0c0"/><rect x="505" y="645" width="1" height="15" fill="#c0c0c0"/><rect x="513" y="645" width="1" height="20" fill="#c0c0c0"/><rect x="521" y="645" width="1" height="32" fill="#c0c0c0"/><rect x="529" y="645" width="1" height="41" fill="#c0c0c0"/><rect x="537" y="645" width="1" height="47" fill="#c0c0c0"/><rect x="545" y="645" width="1" height="49" fill="#c0c0c0"/><rect x="553" y="645" width="1" height="52" fill="#c0c0c0"/><rect x="561" y="645" width="1" height="50" fill="#c0c0c0"/><rect x="569" y="645" width="1" height="51" fill="#c0c0c0"/><rect x="577" y="645" width="1" height="49" fill="#c0c0c0"/><rect x="585" y="645" width="1" height="50" fill="#c0c0c0"/><rect x="593" y="645" width="1" height="53" fill="#c0c0c0"/><rect x="601" y="645" width="1" height="58" fill="#c0c0c0"/><rect x="609" y="645" width="1" height="64" fill="#c0c0c0"/><rect x="617" y="645" width="1" height="69" fill="#c0c0c0"/><rect x="625" y="645" width="1" height="78" fill="#c0c0c0"/><rect x="633" y="645" width="1" height="84" fill="#c0c0c0"/><rect x="641" y="645" width="1" height="89" fill="#c0c0c0"/><rect x="649" y="645" width="1" height="93" fill="#c0c0c0"/><rect x="657" y="645" width="1" height="96" fill="#c0c0c0"/><rect x="665" y="645" width="1" height="95" fill="#c0c0c0"/><rect x="673" y="645" width="1" height="94" fill="#c0c0c0"/><rect x="681" y="645" width="1" height="92" fill="#c0c0c0"/><rect x="689" y="645" width="1" height="85" fill="#c0c0c0"/><rect x="697" y="645" width="1" height="79" fill="#c0c0c0"/><rect x="705" y="645" width="1" height="69" fill="#c0c0c0"/><rect x="713" y="645" width="1" height="55" fill="#c0c0c0"/><rect x="721" y="645" width="1" height="41" fill="#c0c0c0"/><rect x="729" y="645" width="1" height="31" fill="#c0c0c0"/><rect x="737" y="645" width="1" height="24" fill="#c0c0c0"/><rect x="745" y="645" width="1" height="18" fill="#c0c0c0"/><rect x="753" y="645" width="1" height="12" fill="#c0c0c0"/><rect x="761" y="645" width="1" height="8" fill="#c0c0c0"/><rect x="769" y="645" width="1" height="3" fill="#c0c0c0"/><rect x="785" y="644" width="1" height="2" fill="#c0c0c0"/><rect x="793" y="643" width="1" height="3" fill="#c0c0c0"/><rect x="801" y="642" width="1" height="4" fill="#c0c0c0"/><rect x="809" y="641" width="1" height="5" fill="#c0c0c0"/><rect x="817" y="634" width="1" height="12" fill="#c0c0c0"/><rect x="825" y="629" width="1" height="17" fill="#c0c0c0"/><rect x="833" y="626" width="1" height="20" fill="#c0c0c0"/><rect x="841" y="625" width="1" height="21" fill="#c0c0c0"/><rect x="849" y="627" width="1" height="19" fill="#c0c0c0"/><rect x="857" y="632" width="1" height="14" fill="#c0c0c0"/><rect x="865" y="637" width="1" height="9" fill="#c0c0c0"/><rect x="873" y="641" width="1" height="5" fill="#c0c0c0"/><rect x="881" y="645" width="1" height="1" fill="#c0c0c0"/><rect x="889" y="645" width="1" height="1" fill="#c0c0c0"/><rect x="897" y="645" width="1" height="1" fill="#c0c0c0"/><rect x="905" y="638" width="1" height="8" fill="#c0c0c0"/><rect x="913" y="632" width="1" height="14" fill="#c0c0c0"/><rect x="921" y="629" width="1" height="17" fill="#c0c0c0"/><rect x="929" y="625" width="1" height="21" fill="#c0c0c0"/><rect x="937" y="623" width="1" height="23" fill="#c0c0c0"/><rect x="945" y="623" width="1" height="23" fill="#c0c0c0"/><rect x="953" y="623" width="1" height="23" fill="#c0c0c0"/><rect x="961" y="623" width="1" height="23" fill="#c0c0c0"/><rect x="969" y="624" width="1" height="22" fill="#c0c0c0"/><rect x="977" y="622" width="1" height="24" fill="#c0c0c0"/><rect x="985" y="619" width="1" height="27" fill="#c0c0c0"/><rect x="993" y="617" width="1" height="29" fill="#c0c0c0"/><rect x="1001" y="621" width="1" height="25" fill="#c0c0c0"/><rect x="1009" y="626" width="1" height="20" fill="#c0c0c0"/><rect x="1017" y="628" width="1" height="18" fill="#c0c0c0"/><rect x="1025" y="633" width="1" height="13" fill="#c0c0c0"/><rect x="1033" y="633" width="1" height="13" fill="#c0c0c0"/><rect x="1041" y="634" width="1" height="12" fill="#c0c0c0"/><rect x="1049" y="630" width="1" height="16" fill="#c0c0c0"/><rect x="1057" y="630" width="1" height="16" fill="#c0c0c0"/><rect x="1065" y="630" width="1" height="16" fill="#c0c0c0"/><rect x="1073" y="630" width="1" height="16" fill="#c0c0c0"/><rect x="1081" y="627" width="1" height="19" fill="#c0c0c0"/><rect x="1089" y="626" width="1" height="20" fill="#c0c0c0"/><rect x="1097" y="620" width="1" height="26" fill="#c0c0c0"/><rect x="1105" y="613" width="1" height="33" fill="#c0c0c0"/><rect x="1113" y="609" width="1" height="37" fill="#c0c0c0"/><rect x="1121" y="606" width="1" height="40" fill="#c0c0c0"/><rect x="1129" y="605" width="1" height="41" fill="#c0c0c0"/><rect x="1137" y="604" width="1" height="42" fill="#c0c0c0"/><rect x="1145" y="600" width="1" height="46" fill="#c0c0c0"/><rect x="1153" y="594" width="1" height="52" fill="#c0c0c0"/><rect x="1161" y="594" width="1" height="52" fill="#c0c0c0"/><rect x="1169" y="594" width="1" height="52" fill="#c0c0c0"/><rect x="1177" y="598" width="1" height="48" fill="#c0c0c0"/><rect x="1185" y="600" width="1" height="46" fill="#c0c0c0"/><rect x="1193" y="605" width="1" height="41" fill="#c0c0c0"/><rect x="1201" y="608" width="1" height="38" fill="#c0c0c0"/><rect x="1209" y="610" width="1" height="36" fill="#c0c0c0"/><rect x="1217" y="611" width="1" height="35" fill="#c0c0c0"/><rect x="1225" y="615" width="1" height="31" fill="#c0c0c0"/><rect x="1233" y="626" width="1" height="20" fill="#c0c0c0"/><rect x="1241" y="633" width="1" height="13" fill="#c0c0c0"/><rect x="1249" y="640" width="1" height="6" fill="#c0c0c0"/><rect x="1265" y="645" width="1" height="4" fill="#c0c0c0"/><rect x="1273" y="645" width="1" height="10" fill="#c0c0c0"/><rect x="1281" y="645" width="1" height="13" fill="#c0c0c0"/><rect x="1289" y="645" width="1" height="17" fill="#c0c0c0"/><rect x="1297" y="645" width="1" height="18" fill="#c0c0c0"/><rect x="1305" y="645" width="1" height="20" fill="#c0c0c0"/><rect x="1313" y="645" width="1" height="21" fill="#c0c0c0"/><rect x="1321" y="645" width="1" height="19" fill="#c0c0c0"/><rect x="1329" y="645" width="1" height="9" fill="#c0c0c0"/><rect x="1337" y="645" width="1" height="1" fill="#c0c0c0"/><rect x="1345" y="640" width="1" height="6" fill="#c0c0c0"/><rect x="1353" y="635" width="1" height="11" fill="#c0c0c0"/><rect x="1361" y="630" width="1" height="16" fill="#c0c0c0"/><rect x="1369" y="623" width="1" height="23" fill="#c0c0c0"/><rect x="1377" y="616" width="1" height="30" fill="#c0c0c0"/><rect x="1385" y="617" width="1" height="29" fill="#c0c0c0"/><rect x="1393" y="617" width="1" height="29" fill="#c0c0c0"/><rect x="1401" y="619" width="1" height="27" fill="#c0c0c0"/><rect x="1409" y="621" width="1" height="25" fill="#c0c0c0"/><rect x="1417" y="628" width="1" height="18" fill="#c0c0c0"/><rect x="1425" y="628" width="1" height="18" fill="#c0c0c0"/><rect x="1433" y="628" width="1" height="18" fill="#c0c0c0"/><rect x="1441" y="630" width="1" height="16" fill="#c0c0c0"/><rect x="1449" y="631" width="1" height="15" fill="#c0c0c0"/><rect x="1457" y="631" width="1" height="15" fill="#c0c0c0"/><polyline points="0.5,594.5 8.5,601.5 18.5,609.5 30.5,616.1 42.5,620.5 50.5,624.6 66.5,627.0 90.5,627.0 104.5,629.0 128.5,632.2 152.5,635.0 170.5,636.0 188.5,636.0 200.5,638.0 210.5,641.6 220.5,646.2 232.5,650.6 244.5,657.6 258.5,664.2 270.5,667.6 280.5,671.0 294.5,673.0 306.5,675.0 314.5,677.0 328.5,677.6 340.5,676.3 354.5,673.6 366.5,670.6 380.5,666.6 394.5,664.0 408.5,665.0 420.5,666.0 440.5,666.6 456.5,665.0 472.5,660.2 486.5,655.2 498.5,653.2 506.5,653.0 520.5,655.6 530.5,660.6 540.5,667.6 552.5,675.0 564.5,682.6 576.5,689.0 588.5,694.0 600.5,696.6 610.5,698.6 620.5,702.2 630.5,706.0 642.5,712.7 652.5,718.7 662.5,725.7 672.5,730.7 682.5,733.7 696.5,735.7 708.5,732.3 720.5,724.7 732.5,714.7 744.5,702.7 756.5,688.6 768.5,675.6 780.5,664.6 792.5,656.6 808.5,649.0 820.5,644.6 832.5,639.0 844.5,636.0 856.5,633.0 868.5,633.0 876.5,631.8 886.5,633.0 896.5,636.0 908.5,637.2 920.5,638.0 932.5,637.6 944.5,634.6 956.5,631.0 968.5,627.6 980.5,624.6 992.5,622.0 1004.5,622.0 1023.5,624.0 1036.5,625.0 1050.5,627.0 1064.5,630.0 1082.5,631.0 1100.5,628.6 1112.5,624.6 1124.5,619.6 1136.5,615.5 1148.5,610.5 1160.5,605.5 1172.5,600.9 1184.5,598.9 1196.5,598.9 1210.5,599.9 1222.5,602.9 1234.5,607.5 1246.5,614.5 1258.5,621.6 1270.5,629.6 1282.5,637.6 1294.5,645.6 1306.5,653.0 1318.5,658.0 1330.5,660.8 1342.5,659.2 1356.8,654.7 1368.5,648.1 1380.2,638.3 1391.9,631.2 1403.6,625.4 1410.7,622.6 1427.1,621.9 1441.1,622.6 1457.5,624.2" fill="none" stroke="#ff0000" stroke-width="1" stroke-dasharray="3,3"/></g><rect x="1408" y="626" width="50" height="3" fill="#ff0000" shape-rendering="crispEdges"/><polygon points="1467,627.5 1453,623 1456,627.5 1453,632" fill="#ff0000"/><g shape-rendering="crispEdges"><line x1="0" y1="787.5" x2="1651" y2="787.5" stroke="#c0c0c0" stroke-width="1" stroke-dasharray="3,3"/><line x1="0" y1="838.5" x2="1651" y2="838.5" stroke="#c0c0c0" stroke-width="1" stroke-dasharray="3,3"/><line x1="0" y1="899.5" x2="1651" y2="899.5" stroke="#c0c0c0" stroke-width="1" stroke-dasharray="3,3"/><polyline points="1.5,839.6 9.5,839.8 17.5,838.6 25.5,829.7 33.5,821.8 41.5,835.4 49.5,829.7 57.5,831.6 65.5,827.2 73.5,820.5 81.5,829.2 89.5,837.8 97.5,847.7 105.5,846.5 113.5,845.7 121.5,829.9 129.5,829.9 137.5,828.4 145.5,826.5 153.5,829.7 161.5,832.4 169.5,833.6 177.5,835.6 185.5,859.4 193.5,857.6 201.5,860.8 209.5,859.6 217.5,860.6 225.5,853.7 233.5,864.3 241.5,866.8 249.5,866.8 257.5,865.5 265.5,861.3 273.5,853.7 281.5,865.5 289.5,866.8 297.5,866.8 305.5,870.0 313.5,874.7 321.5,862.6 329.5,838.3 337.5,834.6 345.5,838.1 353.5,832.9 361.5,830.7 369.5,849.0 377.5,856.9 385.5,866.8 393.5,863.3 401.5,861.6 409.5,863.8 417.5,857.6 425.5,834.1 433.5,828.7 441.5,832.1 449.5,838.3 457.5,836.6 465.5,831.2 473.5,841.5 481.5,846.0 489.5,845.0 497.5,857.6 505.5,863.8 513.5,867.0 521.5,881.9 529.5,880.6 537.5,879.4 545.5,870.7 553.5,874.4 561.5,856.9 569.5,864.5 577.5,858.9 585.5,863.1 593.5,871.2 601.5,876.9 609.5,879.9 617.5,881.6 625.5,888.5 633.5,889.8 641.5,889.8 649.5,891.8 657.5,893.0 665.5,882.8 673.5,883.6 681.5,881.6 689.5,865.0 697.5,864.5 705.5,846.5 713.5,830.4 721.5,826.7 729.5,828.4 737.5,831.6 745.5,831.6 753.5,829.7 761.5,833.6 769.5,825.7 777.5,829.7 785.5,833.6 793.5,833.6 801.5,835.9 809.5,831.6 817.5,813.6 825.5,811.9 833.5,820.5 841.5,824.2 849.5,832.9 857.5,845.3 865.5,850.7 873.5,850.7 881.5,851.9 889.5,839.1 897.5,837.8 905.5,816.1 913.5,816.1 921.5,819.8 929.5,816.8 937.5,818.5 945.5,823.7 953.5,825.0 961.5,823.7 969.5,825.0 977.5,815.1 985.5,811.4 993.5,809.9 1001.5,839.6 1009.5,838.6 1017.5,836.6 1025.5,845.7 1033.5,834.6 1041.5,833.4 1049.5,818.8 1057.5,830.9 1065.5,829.7 1073.5,828.7 1081.5,820.5 1089.5,820.5 1097.5,807.4 1105.5,803.9 1113.5,803.7 1121.5,804.9 1129.5,812.9 1137.5,809.9 1145.5,799.5 1153.5,795.0 1161.5,809.4 1169.5,813.1 1177.5,823.0 1185.5,819.8 1193.5,830.9 1201.5,827.4 1209.5,825.5 1217.5,821.8 1225.5,832.1 1233.5,857.6 1241.5,849.7 1249.5,852.7 1257.5,853.9 1265.5,853.9 1273.5,860.1 1281.5,856.9 1289.5,860.1 1297.5,851.9 1305.5,855.9 1313.5,856.9 1321.5,837.8 1329.5,818.8 1337.5,814.8 1345.5,823.0 1353.5,823.0 1361.5,818.5 1369.5,810.6 1377.5,807.9 1385.5,827.4 1393.5,829.2 1401.5,832.1 1409.5,831.2 1417.5,842.8 1425.5,838.6 1433.5,831.2 1441.5,833.6 1449.5,832.9 1457.5,832.9" fill="none" stroke="#1e90ff" stroke-width="1"/></g><polygon points="1397,834.2 1397,837.2 1447,834.2 1447,831.2" fill="#ff0000"/><polygon points="1457,832 1443,827.5 1446,832.5 1444,837.5" fill="#ff0000"/><g shape-rendering="crispEdges" fill="#000"><rect x="0" y="24" width="1652" height="1"/><rect x="1651" y="24" width="1" height="902"/><rect x="0" y="577" width="1652" height="1"/><rect x="0" y="579" width="1652" height="1"/><rect x="0" y="749" width="1652" height="1"/><rect x="0" y="751" width="1652" height="1"/><rect x="0" y="925" width="1652" height="1"/><rect x="0" y="578" width="1698" height="1" fill="#fff"/><rect x="0" y="750" width="1698" height="1" fill="#fff"/></g><g font-family="Liberation Sans" font-size="9.35" fill="#000"><rect x="1652" y="46" width="2" height="1" fill="#000" shape-rendering="crispEdges"/><text transform="translate(1657.1,50.0) scale(1,1.07)" font-size="9.25">1.39605</text><rect x="1652" y="79" width="2" height="1" fill="#000" shape-rendering="crispEdges"/><text transform="translate(1657.1,83.0) scale(1,1.07)" font-size="9.25">1.39375</text><rect x="1652" y="112" width="2" height="1" fill="#000" shape-rendering="crispEdges"/><text transform="translate(1657.1,116.0) scale(1,1.07)" font-size="9.25">1.39150</text><rect x="1652" y="145" width="2" height="1" fill="#000" shape-rendering="crispEdges"/><text transform="translate(1657.1,149.0) scale(1,1.07)" font-size="9.25">1.38920</text><rect x="1652" y="178" width="2" height="1" fill="#000" shape-rendering="crispEdges"/><text transform="translate(1657.1,182.0) scale(1,1.07)" font-size="9.25">1.38690</text><rect x="1652" y="211" width="2" height="1" fill="#000" shape-rendering="crispEdges"/><text transform="translate(1657.1,215.0) scale(1,1.07)" font-size="9.25">1.38460</text><rect x="1652" y="244" width="2" height="1" fill="#000" shape-rendering="crispEdges"/><text transform="translate(1657.1,248.0) scale(1,1.07)" font-size="9.25">1.38230</text><rect x="1652" y="277" width="2" height="1" fill="#000" shape-rendering="crispEdges"/><text transform="translate(1657.1,281.0) scale(1,1.07)" font-size="9.25">1.38000</text><rect x="1652" y="310" width="2" height="1" fill="#000" shape-rendering="crispEdges"/><text transform="translate(1657.1,314.0) scale(1,1.07)" font-size="9.25">1.37770</text><rect x="1652" y="343" width="2" height="1" fill="#000" shape-rendering="crispEdges"/><text transform="translate(1657.1,347.0) scale(1,1.07)" font-size="9.25">1.37540</text><rect x="1652" y="376" width="2" height="1" fill="#000" shape-rendering="crispEdges"/><text transform="translate(1657.1,380.0) scale(1,1.07)" font-size="9.25">1.37315</text><rect x="1652" y="409" width="2" height="1" fill="#000" shape-rendering="crispEdges"/><text transform="translate(1657.1,413.0) scale(1,1.07)" font-size="9.25">1.37085</text><rect x="1652" y="442" width="2" height="1" fill="#000" shape-rendering="crispEdges"/><text transform="translate(1657.1,446.0) scale(1,1.07)" font-size="9.25">1.36855</text><rect x="1652" y="475" width="2" height="1" fill="#000" shape-rendering="crispEdges"/><text transform="translate(1657.1,479.0) scale(1,1.07)" font-size="9.25">1.36625</text><rect x="1652" y="508" width="2" height="1" fill="#000" shape-rendering="crispEdges"/><text transform="translate(1657.1,512.0) scale(1,1.07)" font-size="9.25">1.36395</text><rect x="1652" y="541" width="2" height="1" fill="#000" shape-rendering="crispEdges"/><text transform="translate(1657.1,545.0) scale(1,1.07)" font-size="9.25">1.36165</text><rect x="1652" y="574" width="2" height="1" fill="#000" shape-rendering="crispEdges"/><text transform="translate(1657.1,578.0) scale(1,1.07)" font-size="9.25">1.35935</text><rect x="1653" y="161" width="41" height="11" fill="#ff0000" shape-rendering="crispEdges"/><text transform="translate(1657.1,170.0) scale(1,1.07)" fill="#fff" font-size="9.25">1.38769</text><rect x="1653" y="183" width="41" height="11" fill="#ff4500" shape-rendering="crispEdges"/><text transform="translate(1657.1,192.0) scale(1,1.07)" fill="#fff" font-size="9.25">1.38613</text><rect x="1653" y="218" width="41" height="11" fill="#32cd32" shape-rendering="crispEdges"/><text transform="translate(1657.1,227.0) scale(1,1.07)" fill="#fff" font-size="9.25">1.38367</text><rect x="1653" y="242" width="41" height="11" fill="#0000ff" shape-rendering="crispEdges"/><text transform="translate(1657.1,251.0) scale(1,1.07)" fill="#fff" font-size="9.25">1.38203</text><rect x="1653" y="263" width="41" height="11" fill="#0000ff" shape-rendering="crispEdges"/><text transform="translate(1657.1,272.0) scale(1,1.07)" fill="#fff" font-size="9.25">1.38054</text><rect x="1652" y="581" width="1" height="1" fill="#000" shape-rendering="crispEdges"/><text transform="translate(1654.8,590.2) scale(1,1.07)" textLength="37.9" lengthAdjust="spacingAndGlyphs">0.003494</text><rect x="1652" y="645" width="1" height="1" fill="#000" shape-rendering="crispEdges"/><text transform="translate(1654.8,649.3) scale(1,1.07)" textLength="17.3" lengthAdjust="spacingAndGlyphs">0.00</text><rect x="1652" y="748" width="1" height="1" fill="#000" shape-rendering="crispEdges"/><text transform="translate(1654.8,746.0) scale(1,1.07)" textLength="41.0" lengthAdjust="spacingAndGlyphs">-0.005628</text><rect x="1652" y="753" width="1" height="1" fill="#000" shape-rendering="crispEdges"/><text transform="translate(1655.2,762.1) scale(1,1.07)">100</text><text transform="translate(1655.2,791.3) scale(1,1.07)">80</text><text transform="translate(1655.2,842.3) scale(1,1.07)">50</text><text transform="translate(1655.2,903.0) scale(1,1.07)">15</text><rect x="1652" y="924" width="1" height="1" fill="#000" shape-rendering="crispEdges"/><text transform="translate(1655.2,922.0) scale(1,1.07)">0</text><rect x="-7" y="926" width="1" height="3" fill="#000" shape-rendering="crispEdges"/><text transform="translate(-8.5,937.5) scale(1,1.07)" font-size="9.65">2 Aug 2021</text><rect x="57" y="926" width="1" height="3" fill="#000" shape-rendering="crispEdges"/><text transform="translate(55.5,937.5) scale(1,1.07)" font-size="9.65">3 Aug 20:00</text><rect x="121" y="926" width="1" height="3" fill="#000" shape-rendering="crispEdges"/><text transform="translate(119.5,937.5) scale(1,1.07)" font-size="9.65">5 Aug 04:00</text><rect x="185" y="926" width="1" height="3" fill="#000" shape-rendering="crispEdges"/><text transform="translate(183.5,937.5) scale(1,1.07)" font-size="9.65">6 Aug 12:00</text><rect x="249" y="926" width="1" height="3" fill="#000" shape-rendering="crispEdges"/><text transform="translate(247.5,937.5) scale(1,1.07)" font-size="9.65">9 Aug 20:00</text><rect x="313" y="926" width="1" height="3" fill="#000" shape-rendering="crispEdges"/><text transform="translate(311.5,937.5) scale(1,1.07)" font-size="9.65" textLength="55.8" lengthAdjust="spacingAndGlyphs">11 Aug 04:00</text><rect x="377" y="926" width="1" height="3" fill="#000" shape-rendering="crispEdges"/><text transform="translate(375.5,937.5) scale(1,1.07)" font-size="9.65" textLength="55.8" lengthAdjust="spacingAndGlyphs">12 Aug 12:00</text><rect x="441" y="926" width="1" height="3" fill="#000" shape-rendering="crispEdges"/><text transform="translate(439.5,937.5) scale(1,1.07)" font-size="9.65" textLength="55.8" lengthAdjust="spacingAndGlyphs">15 Aug 23:00</text><rect x="505" y="926" width="1" height="3" fill="#000" shape-rendering="crispEdges"/><text transform="translate(503.5,937.5) scale(1,1.07)" font-size="9.65" textLength="55.8" lengthAdjust="spacingAndGlyphs">17 Aug 04:00</text><rect x="569" y="926" width="1" height="3" fill="#000" shape-rendering="crispEdges"/><text transform="translate(567.5,937.5) scale(1,1.07)" font-size="9.65" textLength="55.8" lengthAdjust="spacingAndGlyphs">18 Aug 12:00</text><rect x="633" y="926" width="1" height="3" fill="#000" shape-rendering="crispEdges"/><text transform="translate(631.5,937.5) scale(1,1.07)" font-size="9.65" textLength="55.8" lengthAdjust="spacingAndGlyphs">19 Aug 20:00</text><rect x="697" y="926" width="1" height="3" fill="#000" shape-rendering="crispEdges"/><text transform="translate(695.5,937.5) scale(1,1.07)" font-size="9.65" textLength="55.8" lengthAdjust="spacingAndGlyphs">23 Aug 04:00</text><rect x="761" y="926" width="1" height="3" fill="#000" shape-rendering="crispEdges"/><text transform="translate(759.5,937.5) scale(1,1.07)" font-size="9.65" textLength="55.8" lengthAdjust="spacingAndGlyphs">24 Aug 12:00</text><rect x="825" y="926" width="1" height="3" fill="#000" shape-rendering="crispEdges"/><text transform="translate(823.5,937.5) scale(1,1.07)" font-size="9.65" textLength="55.8" lengthAdjust="spacingAndGlyphs">25 Aug 20:00</text><rect x="889" y="926" width="1" height="3" fill="#000" shape-rendering="crispEdges"/><text transform="translate(887.5,937.5) scale(1,1.07)" font-size="9.65" textLength="55.8" lengthAdjust="spacingAndGlyphs">27 Aug 04:00</text><rect x="953" y="926" width="1" height="3" fill="#000" shape-rendering="crispEdges"/><text transform="translate(951.5,937.5) scale(1,1.07)" font-size="9.65" textLength="55.8" lengthAdjust="spacingAndGlyphs">30 Aug 12:00</text><rect x="1017" y="926" width="1" height="3" fill="#000" shape-rendering="crispEdges"/><text transform="translate(1015.5,937.5) scale(1,1.07)" font-size="9.65" textLength="55.8" lengthAdjust="spacingAndGlyphs">31 Aug 20:00</text><rect x="1081" y="926" width="1" height="3" fill="#000" shape-rendering="crispEdges"/><text transform="translate(1079.5,937.5) scale(1,1.07)" font-size="9.65">2 Sep 04:00</text><rect x="1145" y="926" width="1" height="3" fill="#000" shape-rendering="crispEdges"/><text transform="translate(1143.5,937.5) scale(1,1.07)" font-size="9.65">3 Sep 12:00</text><rect x="1209" y="926" width="1" height="3" fill="#000" shape-rendering="crispEdges"/><text transform="translate(1207.5,937.5) scale(1,1.07)" font-size="9.65">6 Sep 20:00</text><rect x="1273" y="926" width="1" height="3" fill="#000" shape-rendering="crispEdges"/><text transform="translate(1271.5,937.5) scale(1,1.07)" font-size="9.65">8 Sep 04:00</text><rect x="1337" y="926" width="1" height="3" fill="#000" shape-rendering="crispEdges"/><text transform="translate(1335.5,937.5) scale(1,1.07)" font-size="9.65">9 Sep 12:00</text><rect x="1401" y="926" width="1" height="3" fill="#000" shape-rendering="crispEdges"/><text transform="translate(1399.5,937.5) scale(1,1.07)" font-size="9.65" textLength="55.8" lengthAdjust="spacingAndGlyphs">12 Sep 23:00</text><text transform="translate(7.9,35.6) scale(1,1.07)" textLength="204.6" lengthAdjust="spacingAndGlyphs">GBPUSD-,H4&#160;&#160;1.38366 1.38380 1.38365 1.38376</text><text transform="translate(-1.5,592) scale(1,1.07)">MACD(12,26,9) 0.000779 0.001077</text><text transform="translate(-1.5,764) scale(1,1.07)" textLength="66.6" lengthAdjust="spacingAndGlyphs">RSI(14) 53.5903</text></g><polygon points="0,35 0,31.5 3.5,35" fill="#000"/><defs><linearGradient id="gTop" x1="0" y1="0" x2="0" y2="1"><stop offset="0" stop-color="#f95252"/><stop offset="1" stop-color="#dc2f2f"/></linearGradient><linearGradient id="gBot" x1="0" y1="0" x2="0" y2="1"><stop offset="0" stop-color="#d92c2c"/><stop offset="1" stop-color="#ab0303"/></linearGradient><linearGradient id="gBtn" x1="0" y1="0" x2="0" y2="1"><stop offset="0" stop-color="#f4f4f4"/><stop offset="0.45" stop-color="#e6e6e6"/><stop offset="0.5" stop-color="#d6d6d6"/><stop offset="1" stop-color="#cfcfcf"/></linearGradient></defs><rect x="0" y="42" width="217" height="61" fill="#fff"/><g shape-rendering="crispEdges"><rect x="0" y="44" width="48" height="25" fill="url(#gTop)"/><rect x="0" y="44" width="48" height="1" fill="#c41a1a"/><rect x="47" y="44" width="1" height="25" fill="#c41a1a"/><rect x="163" y="44" width="52" height="25" fill="url(#gTop)"/><rect x="163" y="44" width="52" height="1" fill="#c41a1a"/><rect x="163" y="44" width="1" height="25" fill="#c41a1a"/><rect x="214" y="44" width="1" height="25" fill="#c41a1a"/><rect x="0" y="68" width="105" height="33" fill="url(#gBot)"/><rect x="107" y="68" width="108" height="33" fill="url(#gBot)"/><rect x="104" y="68" width="1" height="33" fill="#a00000"/><rect x="107" y="68" width="1" height="33" fill="#b00808"/><rect x="214" y="68" width="1" height="33" fill="#a00000"/><rect x="0" y="100" width="105" height="1" fill="#a00000"/><rect x="107" y="100" width="108" height="1" fill="#a00000"/><rect x="0" y="67" width="44" height="1" fill="#9c0000"/><rect x="0" y="68" width="44" height="1" fill="#ee5a5a"/><rect x="167" y="67" width="44" height="1" fill="#9c0000"/><rect x="167" y="68" width="44" height="1" fill="#ee5a5a"/><rect x="50" y="44" width="111" height="22" fill="#a4abb3"/><rect x="51" y="45" width="109" height="20" fill="#fff"/><rect x="51" y="45" width="20" height="20" fill="url(#gBtn)"/><rect x="140" y="45" width="20" height="20" fill="url(#gBtn)"/><rect x="71" y="45" width="1" height="20" fill="#a4abb3"/><rect x="139" y="45" width="1" height="20" fill="#a4abb3"/></g><polygon points="58,53 63.5,53 60.75,56" fill="#4a5bc4"/><polygon points="147,56 152.5,56 149.75,53" fill="#4a5bc4"/><g font-family="Liberation Sans" fill="#fff"><text x="8.2" y="60.2" font-size="12.2" letter-spacing="-1.05">SELL</text><text x="176.3" y="60.2" font-size="12.2" letter-spacing="-0.9">BUY</text><text x="136.2" y="59.6" font-size="12" fill="#000" text-anchor="end">1.00</text><text x="16" y="95.8" font-size="11.8" font-weight="bold">1.38</text><text x="126.2" y="95.8" font-size="11.8" font-weight="bold">1.38</text><text transform="translate(43.5,95.8) scale(0.93,1)" font-size="32.8">37</text><text transform="translate(153,95.8) scale(0.93,1)" font-size="32.8">40</text><text x="82.5" y="80.2" font-size="12.6" font-weight="bold">6</text><text x="193.7" y="80.2" font-size="12.6" font-weight="bold">6</text></g><defs><linearGradient id="gGold" x1="0" y1="0" x2="1" y2="1"><stop offset="0" stop-color="#f8dc50"/><stop offset="0.6" stop-color="#e0a820"/><stop offset="1" stop-color="#b87808"/></linearGradient><linearGradient id="gCloud" x1="0" y1="0" x2="0" y2="1"><stop offset="0" stop-color="#ffffff"/><stop offset="1" stop-color="#bccbe4"/></linearGradient><linearGradient id="gGreen" x1="0" y1="0" x2="1" y2="0"><stop offset="0" stop-color="#00a000"/><stop offset="0.5" stop-color="#40f040"/><stop offset="1" stop-color="#00a000"/></linearGradient><radialGradient id="gBadge" cx="0.5" cy="0.3" r="0.8"><stop offset="0" stop-color="#ea5030"/><stop offset="1" stop-color="#d41c08"/></radialGradient></defs><g shape-rendering="crispEdges"><rect x="0" y="0" width="1698" height="19" fill="#f0f0f0"/><rect x="0" y="19" width="1698" height="1" fill="#dadada"/><rect x="0" y="20" width="1698" height="1" fill="#a0a0a0"/><rect x="0" y="21" width="1698" height="1" fill="#6c6c6c"/><rect x="0" y="22" width="1698" height="2" fill="#fff"/><rect x="287" y="0" width="24" height="18" fill="#f8f8f8"/><rect x="438" y="0" width="25" height="18" fill="#f8f8f8"/><rect x="467" y="0" width="24" height="18" fill="#f8f8f8"/><rect x="627" y="0" width="24" height="18" fill="#f8f8f8"/><rect x="1073" y="0" width="24" height="18" fill="#f8f8f8"/><rect x="12" y="0" width="1" height="18" fill="#a0a0a0"/><rect x="286" y="0" width="1" height="18" fill="#a0a0a0"/><rect x="343" y="0" width="1" height="18" fill="#a0a0a0"/><rect x="433" y="0" width="1" height="18" fill="#a0a0a0"/><rect x="466" y="0" width="1" height="18" fill="#a0a0a0"/><rect x="495" y="0" width="1" height="18" fill="#a0a0a0"/><rect x="683" y="0" width="1" height="18" fill="#a0a0a0"/><rect x="1072" y="0" width="1" height="18" fill="#a0a0a0"/><rect x="248" y="0" width="1" height="20" fill="#909090"/><rect x="249" y="0" width="1" height="20" fill="#fcfcfc"/><rect x="617" y="0" width="1" height="20" fill="#909090"/><rect x="618" y="0" width="1" height="20" fill="#fcfcfc"/><rect x="922" y="0" width="1" height="20" fill="#909090"/><rect x="923" y="0" width="1" height="20" fill="#fcfcfc"/><rect x="1183" y="0" width="1" height="20" fill="#909090"/><rect x="1184" y="0" width="1" height="20" fill="#fcfcfc"/><rect x="626" y="0" width="1" height="18" fill="#a0a0a0"/><rect x="252" y="0" width="3" height="1" fill="#a6a6a6"/><rect x="252" y="2" width="3" height="1" fill="#a6a6a6"/><rect x="252" y="4" width="3" height="1" fill="#a6a6a6"/><rect x="252" y="6" width="3" height="1" fill="#a6a6a6"/><rect x="252" y="8" width="3" height="1" fill="#a6a6a6"/><rect x="252" y="10" width="3" height="1" fill="#a6a6a6"/><rect x="252" y="12" width="3" height="1" fill="#a6a6a6"/><rect x="252" y="14" width="3" height="1" fill="#a6a6a6"/><rect x="252" y="16" width="3" height="1" fill="#a6a6a6"/><rect x="620" y="0" width="3" height="1" fill="#a6a6a6"/><rect x="620" y="2" width="3" height="1" fill="#a6a6a6"/><rect x="620" y="4" width="3" height="1" fill="#a6a6a6"/><rect x="620" y="6" width="3" height="1" fill="#a6a6a6"/><rect x="620" y="8" width="3" height="1" fill="#a6a6a6"/><rect x="620" y="10" width="3" height="1" fill="#a6a6a6"/><rect x="620" y="12" width="3" height="1" fill="#a6a6a6"/><rect x="620" y="14" width="3" height="1" fill="#a6a6a6"/><rect x="620" y="16" width="3" height="1" fill="#a6a6a6"/><rect x="925" y="0" width="3" height="1" fill="#a6a6a6"/><rect x="925" y="2" width="3" height="1" fill="#a6a6a6"/><rect x="925" y="4" width="3" height="1" fill="#a6a6a6"/><rect x="925" y="6" width="3" height="1" fill="#a6a6a6"/><rect x="925" y="8" width="3" height="1" fill="#a6a6a6"/><rect x="925" y="10" width="3" height="1" fill="#a6a6a6"/><rect x="925" y="12" width="3" height="1" fill="#a6a6a6"/><rect x="925" y="14" width="3" height="1" fill="#a6a6a6"/><rect x="925" y="16" width="3" height="1" fill="#a6a6a6"/></g><circle cx="-2" cy="9" r="4.5" fill="#9cc4ec" stroke="#4a86c8" stroke-width="1.2"/><line x1="0.5" y1="12.5" x2="4" y2="17" stroke="#c8a028" stroke-width="2.6"/><rect x="4" y="5" width="2" height="2" fill="#000" transform="rotate(45 5 6)"/><path d="M22.5,0 h7 l4,4 v9.5 h-11 z" fill="#fdfdfd" stroke="#7a7a7a" stroke-width="1"/><path d="M29.5,0 v4 h4" fill="#e8e8e8" stroke="#7a7a7a" stroke-width="1"/><g shape-rendering="crispEdges" fill="#8a8a8a"><rect x="24" y="2" width="4" height="2"/><rect x="24" y="6" width="7" height="1"/><rect x="24" y="8" width="6" height="1"/></g><path d="M30.0,6.3 h4 v3.7 h3.7 v4 h-3.7 v3.7 h-4 v-3.7 h-3.7 v-4 h3.7 z" fill="#1fc01f" stroke="#0a8a0a" stroke-width="1"/><text x="41" y="11.3" font-family="'Liberation Sans','Noto Sans CJK SC',sans-serif" font-size="12" fill="#000">新订单</text><path d="M89,10 L94.7,1.3 L104.7,8.4 L104.7,11 L96.6,15.9 L89,10.8 Z" fill="url(#gGold)" stroke="#a87008" stroke-width="0.8"/><path d="M89.5,10.3 L97,14 L104.5,9" fill="none" stroke="#f8e890" stroke-width="0.8"/><path d="M119,0 h8 l3.3,1.5 v7.5 h-11.3 z" fill="#2b9cff"/><path d="M119,0 l3,1.5 v7.5 h-3 z" fill="#8ad0ff"/><rect x="123.5" y="3" width="5" height="1.2" fill="#e8f4ff"/><rect x="123.5" y="5.5" width="5" height="1.2" fill="#d0e8ff"/><path d="M120,15.6 a3,3 0 0 1 -0.3,-5.6 a4,3.6 0 0 1 6.3,-1.2 a3.4,3.2 0 0 1 5,2 a2.6,2.6 0 0 1 -0.6,4.8 z" fill="url(#gCloud)" stroke="#5878b8" stroke-width="0.9"/><g fill="none" stroke-width="1.4"><path d="M153,3.0 a4.4,4.4 0 0 0 0,8.8" stroke="#3a66d4" opacity="0.80"/><path d="M153,3.0 a4.4,4.4 0 0 1 0,8.8" stroke="#4aa050" opacity="0.80"/><path d="M153,0.0 a7.4,7.4 0 0 0 0,14.8" stroke="#3a66d4" opacity="0.50"/><path d="M153,0.0 a7.4,7.4 0 0 1 0,14.8" stroke="#4aa050" opacity="0.50"/></g><path d="M153,7.4 L161,7.4 A8,8 0 0 1 153.6,15.4 Z" fill="#58a860" opacity="0.55"/><circle cx="153" cy="7.2" r="1.9" fill="#2452c8"/><rect x="153" y="8" width="1.6" height="7.8" fill="#18a818"/><path d="M172.3,7 L187.6,7 L180,15.6 Z" fill="#f8d438" stroke="#d8a818" stroke-width="0.6"/><ellipse cx="180" cy="4" rx="8" ry="3.2" fill="#4c9cde"/><ellipse cx="180" cy="1" rx="3.4" ry="3" fill="#58acea"/><ellipse cx="180" cy="5.6" rx="5.5" ry="1.3" fill="#2c78c4" opacity="0.6"/><circle cx="184.4" cy="11.7" r="4.2" fill="#e01c0a"/><rect x="183" y="10.3" width="3" height="3" fill="#fff"/><text x="193.3" y="11.3" font-family="'Liberation Sans','Noto Sans CJK SC',sans-serif" font-size="12" fill="#000">自动交易</text><g shape-rendering="crispEdges" fill="#505050"><rect x="266" y="2" width="1" height="14"/><rect x="265" y="3" width="3" height="1"/><rect x="264" y="4" width="1" height="1"/><rect x="268" y="4" width="1" height="1"/><rect x="264" y="13" width="14" height="1"/><rect x="276" y="12" width="1" height="3"/><rect x="275" y="11" width="1" height="1"/><rect x="275" y="15" width="1" height="1"/></g><g shape-rendering="crispEdges" fill="#008a00"><rect x="272" y="3" width="1" height="9"/><rect x="273" y="4" width="2" height="1"/><rect x="270" y="10" width="2" height="1"/></g><g shape-rendering="crispEdges" fill="#505050"><rect x="294" y="2" width="1" height="14"/><rect x="293" y="3" width="3" height="1"/><rect x="292" y="4" width="1" height="1"/><rect x="296" y="4" width="1" height="1"/><rect x="292" y="13" width="14" height="1"/><rect x="304" y="12" width="1" height="3"/><rect x="303" y="11" width="1" height="1"/><rect x="303" y="15" width="1" height="1"/></g><g shape-rendering="crispEdges"><rect x="300" y="0" width="1" height="12" fill="#007800"/><rect x="298" y="2" width="5" height="8" fill="#007800"/><rect x="299" y="3" width="3" height="6" fill="#30e030"/></g><g shape-rendering="crispEdges" fill="#505050"><rect x="322" y="2" width="1" height="14"/><rect x="321" y="3" width="3" height="1"/><rect x="320" y="4" width="1" height="1"/><rect x="324" y="4" width="1" height="1"/><rect x="320" y="13" width="14" height="1"/><rect x="332" y="12" width="1" height="3"/><rect x="331" y="11" width="1" height="1"/><rect x="331" y="15" width="1" height="1"/></g><path d="M321.5,10.5 C324,6 326,4.5 327.5,4.5 C329.5,4.5 331,7 333.5,9" fill="none" stroke="#18a018" stroke-width="1.2"/><line x1="362.0" y1="10" x2="367.5" y2="15.5" stroke="#c8a830" stroke-width="2.8" stroke-linecap="round"/><circle cx="358" cy="6" r="5.2" fill="#dcebfa" stroke="#3c78c4" stroke-width="1.4"/><rect x="355" y="5.2" width="6" height="1.7" fill="#2c68c0"/><rect x="357.15" y="3" width="1.7" height="6" fill="#2c68c0"/><line x1="390.0" y1="10" x2="395.5" y2="15.5" stroke="#c8a830" stroke-width="2.8" stroke-linecap="round"/><circle cx="386" cy="6" r="5.2" fill="#dcebfa" stroke="#3c78c4" stroke-width="1.4"/><rect x="383" y="5.2" width="6" height="1.7" fill="#2c68c0"/><g shape-rendering="crispEdges"><rect x="408" y="0" width="8" height="8" fill="#3c9a28"/><rect x="409" y="3" width="5" height="1" fill="#fff"/><rect x="409" y="5" width="5" height="2" fill="#e8f0ff"/><rect x="416" y="0" width="8" height="8" fill="#2858d0"/><rect x="417" y="3" width="5" height="1" fill="#fff"/><rect x="417" y="5" width="5" height="2" fill="#e8f0ff"/><rect x="408" y="8" width="8" height="8" fill="#2858d0"/><rect x="409" y="11" width="5" height="1" fill="#fff"/><rect x="409" y="13" width="5" height="2" fill="#e8f0ff"/><rect x="416" y="8" width="8" height="8" fill="#3c9a28"/><rect x="417" y="11" width="5" height="1" fill="#fff"/><rect x="417" y="13" width="5" height="2" fill="#e8f0ff"/></g><g shape-rendering="crispEdges" fill="#505050"><rect x="446" y="2" width="1" height="14"/><rect x="445" y="3" width="3" height="1"/><rect x="444" y="4" width="1" height="1"/><rect x="448" y="4" width="1" height="1"/><rect x="444" y="13" width="14" height="1"/><rect x="456" y="12" width="1" height="3"/><rect x="455" y="11" width="1" height="1"/><rect x="455" y="15" width="1" height="1"/></g><path d="M451.5,4 L455.5,7.5 L451.5,11 Z" fill="#b8f0b8" stroke="#18a018" stroke-width="1"/><g shape-rendering="crispEdges" fill="#505050"><rect x="474" y="2" width="1" height="14"/><rect x="473" y="3" width="3" height="1"/><rect x="472" y="4" width="1" height="1"/><rect x="476" y="4" width="1" height="1"/><rect x="472" y="13" width="14" height="1"/><rect x="484" y="12" width="1" height="3"/><rect x="483" y="11" width="1" height="1"/><rect x="483" y="15" width="1" height="1"/></g><rect x="480" y="2" width="1" height="11" fill="#2070c0" shape-rendering="crispEdges"/><path d="M481.5,7.5 L486.5,7.5 M481.5,7.5 L484,5 M481.5,7.5 L484,10" stroke="#e03010" stroke-width="1.1" fill="none"/><path d="M505.5,0 h7 l4,4 v9.5 h-11 z" fill="#fdfdfd" stroke="#7a7a7a" stroke-width="1"/><path d="M512.5,0 v4 h4" fill="#e8e8e8" stroke="#7a7a7a" stroke-width="1"/><g shape-rendering="crispEdges" fill="#707070"><rect x="507" y="3" width="1" height="7"/><rect x="508" y="3" width="2" height="1"/><rect x="508" y="9" width="2" height="1"/></g><path d="M513.0,6.3 h4 v3.7 h3.7 v4 h-3.7 v3.7 h-4 v-3.7 h-3.7 v-4 h3.7 z" fill="#1fc01f" stroke="#0a8a0a" stroke-width="1"/><polygon points="527,7 533,7 530.0,10" fill="#000"/><circle cx="551" cy="8" r="6.8" fill="#f4f8ff" stroke="#1c5cc0" stroke-width="2.2"/><path d="M551,4 V8.5 H554.5" stroke="#404040" stroke-width="1" fill="none"/><polygon points="566,7 572,7 569.0,10" fill="#000"/><rect x="582.5" y="1.5" width="15" height="13" fill="#fff" stroke="#3a74d4" stroke-width="1"/><rect x="582" y="1" width="16" height="2" fill="#3a74d4" shape-rendering="crispEdges"/><rect x="583" y="8" width="14" height="1" fill="#8ab0e8" shape-rendering="crispEdges"/><path d="M584,6.5 l3,-1 l2,0.5 l3,-1.5 l2,0.5 l2,-1" stroke="#b03018" stroke-width="1.1" fill="none"/><path d="M584,12.5 l3,-1 l2,0.5 l3,-1.5 l2,1.5 l2,-1" stroke="#18a018" stroke-width="1.1" fill="none"/><polygon points="605,7 611,7 608.0,10" fill="#000"/><path d="M634,1 L634,13 L637,10.3 L639.6,15.3 L641.4,14.4 L638.8,9.6 L642.4,9.6 Z" fill="#222"/><g shape-rendering="crispEdges" fill="#404040"><rect x="666" y="1" width="1" height="6"/><rect x="666" y="10" width="1" height="6"/><rect x="659" y="8" width="6" height="1"/><rect x="668" y="8" width="6" height="1"/></g><g shape-rendering="crispEdges" fill="#404040"><rect x="700" y="2" width="1" height="12"/><rect x="723" y="8" width="13" height="1"/></g><line x1="751" y1="14" x2="763" y2="3" stroke="#404040" stroke-width="1.1"/><g stroke="#3c3c3c" stroke-width="1" fill="none"><path d="M776.6,9.7 L786.3,2.2 M778.8,13.5 L790.8,5.7 M777.5,11.8 L788.5,4.2"/><path d="M780.3,7.2 c0.6,2 -0.4,3.4 0.2,5 M783.6,4.8 c0.6,2 -0.4,3.4 0.2,5 M788.4,0 c0.5,2.5 -0.6,4.2 0,6.8" stroke-width="0.9"/></g><text x="787.7" y="16.7" font-family="Liberation Sans" font-weight="bold" font-size="6.6" fill="#333">E</text><g shape-rendering="crispEdges" stroke="#404040" stroke-width="1" stroke-dasharray="1,1"><line x1="806" y1="1.5" x2="819" y2="1.5"/><line x1="806" y1="4.5" x2="819" y2="4.5"/><line x1="806" y1="8.5" x2="819" y2="8.5"/><line x1="806" y1="12.5" x2="815" y2="12.5"/></g><text x="815.8" y="16.7" font-family="Liberation Sans" font-weight="bold" font-size="6.6" fill="#333">F</text><text transform="translate(836.6,12.8) scale(0.9,1)" font-family="Liberation Sans" font-weight="bold" font-size="12" fill="#555">A</text><rect x="862.5" y="1.5" width="12" height="13" fill="none" stroke="#404040" stroke-width="1" stroke-dasharray="1,1" shape-rendering="crispEdges"/><text x="865" y="12.8" font-family="Liberation Sans" font-weight="bold" font-size="11" fill="#555">T</text><path d="M893.2,2 L896.4,5 L893.2,6.3 L890,5 Z M900.6,14.7 L897.2,11.6 L900.6,9.8 L903.9,11.6 Z" fill="#333"/><path d="M892.2,9.4 L894.6,11.2 L899.2,6.2" stroke="#333" stroke-width="1.3" fill="none"/><polygon points="911,7 917,7 914.0,10" fill="#000"/><g font-family="Liberation Sans" font-size="9.4" fill="#444"><text x="937.2" y="11.4">M1</text><text x="965.2" y="11.4">M5</text><text x="991.1" y="11.4">M15</text><text x="1019.4" y="11.4">M30</text><text x="1050.1" y="11.4">H1</text><text x="1077.9" y="11.4">H4</text><text x="1106.3" y="11.4">D1</text><text x="1133.7" y="11.4">W1</text><text x="1160.2" y="11.4">MN</text></g><circle cx="1653.6" cy="5.6" r="3.9" fill="#f8f8ff" stroke="#2458cc" stroke-width="1.1"/><line x1="1650.6" y1="8.8" x2="1646.2" y2="13" stroke="#2458cc" stroke-width="2.2" stroke-linecap="round"/><path d="M1670.5,10 a5.5,4.6 0 1 1 5,5 l-2.5,1.8 l0.3,-2.2 a5,4 0 0 1 -2.8,-4.6 z" fill="#e4e6ee" stroke="#c4c6cc" stroke-width="0.8"/><circle cx="1684.6" cy="5.2" r="8.4" fill="url(#gBadge)"/><text x="1680.6" y="10.2" font-family="Liberation Sans" font-size="13.5" fill="#fff">1</text></svg>


<div class="abs" style="left:1697px;top:22px;width:1px;height:917px;background:#e3e3e3"></div>
</body></html>
